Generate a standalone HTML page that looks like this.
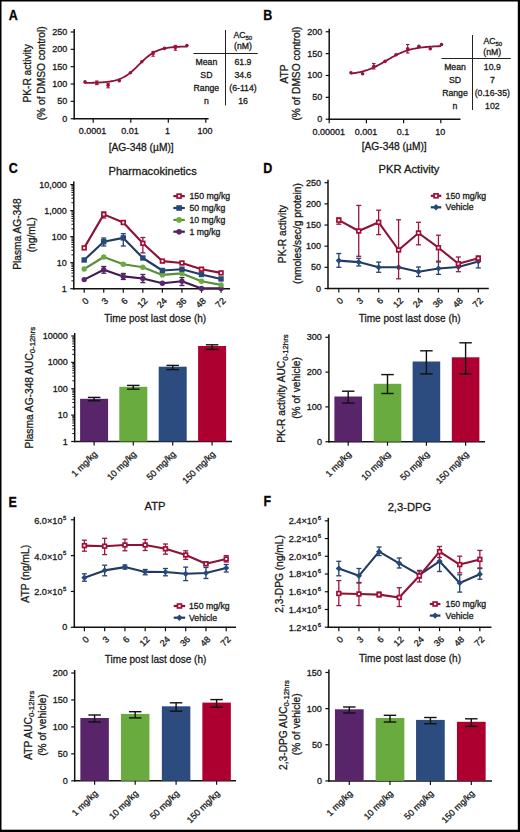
<!DOCTYPE html>
<html><head><meta charset="utf-8"><title>Figure</title>
<style>
html,body{margin:0;padding:0;background:#fff;}
body{width:520px;height:832px;overflow:hidden;}
svg{display:block;font-family:"Liberation Sans",sans-serif;}
text{stroke:#1a1a1a;stroke-width:0.3px;}
</style></head>
<body>
<svg width="520" height="832" viewBox="0 0 520 832">
<rect x="0" y="0" width="520" height="832" fill="#fff"/>
<text transform="translate(8.8,19.6) scale(0.88,1)" font-size="14.2" font-weight="bold" fill="#000">A</text>
<text transform="translate(263.2,19.6) scale(0.88,1)" font-size="14.2" font-weight="bold" fill="#000">B</text>
<text transform="translate(8.700000000000001,172.7) scale(0.88,1)" font-size="14.2" font-weight="bold" fill="#000">C</text>
<text transform="translate(263.2,172.7) scale(0.88,1)" font-size="14.2" font-weight="bold" fill="#000">D</text>
<text transform="translate(8.5,506.5) scale(0.88,1)" font-size="14.2" font-weight="bold" fill="#000">E</text>
<text transform="translate(263.5,506.3) scale(0.88,1)" font-size="14.2" font-weight="bold" fill="#000">F</text>
<line x1="74.20" y1="29.00" x2="74.20" y2="119.45" stroke="#111" stroke-width="1.5"/>
<line x1="70.70" y1="118.70" x2="74.20" y2="118.70" stroke="#111" stroke-width="1.2"/>
<text x="67.20" y="118.70" font-size="9" text-anchor="end" font-weight="normal" fill="#1a1a1a" dominant-baseline="central" >0</text>
<line x1="70.70" y1="101.36" x2="74.20" y2="101.36" stroke="#111" stroke-width="1.2"/>
<text x="67.20" y="101.36" font-size="9" text-anchor="end" font-weight="normal" fill="#1a1a1a" dominant-baseline="central" >50</text>
<line x1="70.70" y1="84.02" x2="74.20" y2="84.02" stroke="#111" stroke-width="1.2"/>
<text x="67.20" y="84.02" font-size="9" text-anchor="end" font-weight="normal" fill="#1a1a1a" dominant-baseline="central" >100</text>
<line x1="70.70" y1="66.68" x2="74.20" y2="66.68" stroke="#111" stroke-width="1.2"/>
<text x="67.20" y="66.68" font-size="9" text-anchor="end" font-weight="normal" fill="#1a1a1a" dominant-baseline="central" >150</text>
<line x1="70.70" y1="49.34" x2="74.20" y2="49.34" stroke="#111" stroke-width="1.2"/>
<text x="67.20" y="49.34" font-size="9" text-anchor="end" font-weight="normal" fill="#1a1a1a" dominant-baseline="central" >200</text>
<line x1="70.70" y1="32.00" x2="74.20" y2="32.00" stroke="#111" stroke-width="1.2"/>
<text x="67.20" y="32.00" font-size="9" text-anchor="end" font-weight="normal" fill="#1a1a1a" dominant-baseline="central" >250</text>
<line x1="73.45" y1="118.70" x2="208.60" y2="118.70" stroke="#111" stroke-width="1.5"/>
<line x1="93.20" y1="118.70" x2="93.20" y2="122.70" stroke="#111" stroke-width="1.2"/>
<line x1="130.80" y1="118.70" x2="130.80" y2="122.70" stroke="#111" stroke-width="1.2"/>
<line x1="168.30" y1="118.70" x2="168.30" y2="122.70" stroke="#111" stroke-width="1.2"/>
<line x1="205.80" y1="118.70" x2="205.80" y2="122.70" stroke="#111" stroke-width="1.2"/>
<text x="92.40" y="134.30" font-size="9" text-anchor="middle" font-weight="normal" fill="#1a1a1a" >0.0001</text>
<text x="130.00" y="134.30" font-size="9" text-anchor="middle" font-weight="normal" fill="#1a1a1a" >0.01</text>
<text x="167.50" y="134.30" font-size="9" text-anchor="middle" font-weight="normal" fill="#1a1a1a" >1</text>
<text x="205.00" y="134.30" font-size="9" text-anchor="middle" font-weight="normal" fill="#1a1a1a" >100</text>
<text x="141.20" y="150.60" font-size="10.5" text-anchor="middle" font-weight="normal" fill="#1a1a1a" textLength="65" lengthAdjust="spacingAndGlyphs">[AG-348 (µM)]</text>
<text transform="translate(31.20,73.40) rotate(-90)" font-size="10.2" text-anchor="middle" fill="#1a1a1a">PK-R activity</text>
<text transform="translate(45.00,73.30) rotate(-90)" font-size="10.2" text-anchor="middle" fill="#1a1a1a">(% of DMSO control)</text>
<polyline points="84.50,82.90 85.50,82.89 86.50,82.88 87.50,82.86 88.50,82.85 89.50,82.83 90.50,82.81 91.50,82.79 92.50,82.77 93.50,82.74 94.50,82.71 95.50,82.68 96.50,82.64 97.50,82.60 98.50,82.56 99.50,82.51 100.50,82.45 101.50,82.39 102.50,82.32 103.50,82.24 104.50,82.16 105.50,82.06 106.50,81.96 107.50,81.84 108.50,81.71 109.50,81.57 110.50,81.41 111.50,81.24 112.50,81.05 113.50,80.84 114.50,80.61 115.50,80.35 116.50,80.07 117.50,79.77 118.50,79.43 119.50,79.07 120.50,78.67 121.50,78.23 122.50,77.76 123.50,77.26 124.50,76.71 125.50,76.12 126.50,75.50 127.50,74.83 128.50,74.12 129.50,73.36 130.50,72.57 131.50,71.74 132.50,70.88 133.50,69.98 134.50,69.05 135.50,68.10 136.50,67.13 137.50,66.14 138.50,65.15 139.50,64.15 140.50,63.16 141.50,62.17 142.50,61.20 143.50,60.25 144.50,59.32 145.50,58.42 146.50,57.56 147.50,56.73 148.50,55.94 149.50,55.18 150.50,54.47 151.50,53.80 152.50,53.18 153.50,52.59 154.50,52.04 155.50,51.54 156.50,51.07 157.50,50.63 158.50,50.23 159.50,49.87 160.50,49.53 161.50,49.23 162.50,48.95 163.50,48.69 164.50,48.46 165.50,48.25 166.50,48.06 167.50,47.89 168.50,47.73 169.50,47.59 170.50,47.46 171.50,47.34 172.50,47.24 173.50,47.14 174.50,47.06 175.50,46.98 176.50,46.91 177.50,46.85 178.50,46.79 179.50,46.74 180.50,46.70 181.50,46.66 182.50,46.62 183.50,46.59 184.50,46.56 185.50,46.53 186.50,46.51 187.50,46.49" fill="none" stroke="#8a1236" stroke-width="1.8"/>
<circle cx="85.00" cy="81.90" r="1.80" fill="#9a1038"/>
<line x1="96.80" y1="81.00" x2="96.80" y2="84.60" stroke="#a50d35" stroke-width="1.1"/>
<line x1="95.05" y1="81.00" x2="98.55" y2="81.00" stroke="#a50d35" stroke-width="1.1"/>
<line x1="95.05" y1="84.60" x2="98.55" y2="84.60" stroke="#a50d35" stroke-width="1.1"/>
<circle cx="96.80" cy="82.80" r="1.80" fill="#9a1038"/>
<line x1="108.10" y1="83.30" x2="108.10" y2="87.80" stroke="#a50d35" stroke-width="1.1"/>
<line x1="106.35" y1="83.30" x2="109.85" y2="83.30" stroke="#a50d35" stroke-width="1.1"/>
<line x1="106.35" y1="87.80" x2="109.85" y2="87.80" stroke="#a50d35" stroke-width="1.1"/>
<circle cx="108.10" cy="85.30" r="1.80" fill="#9a1038"/>
<circle cx="119.30" cy="80.70" r="1.80" fill="#9a1038"/>
<circle cx="130.40" cy="72.70" r="1.80" fill="#9a1038"/>
<circle cx="141.80" cy="61.80" r="1.80" fill="#9a1038"/>
<line x1="153.10" y1="51.40" x2="153.10" y2="56.20" stroke="#a50d35" stroke-width="1.1"/>
<line x1="151.35" y1="51.40" x2="154.85" y2="51.40" stroke="#a50d35" stroke-width="1.1"/>
<line x1="151.35" y1="56.20" x2="154.85" y2="56.20" stroke="#a50d35" stroke-width="1.1"/>
<circle cx="153.10" cy="53.40" r="1.80" fill="#9a1038"/>
<circle cx="164.40" cy="48.40" r="1.80" fill="#9a1038"/>
<line x1="175.40" y1="45.40" x2="175.40" y2="50.20" stroke="#a50d35" stroke-width="1.1"/>
<line x1="173.65" y1="45.40" x2="177.15" y2="45.40" stroke="#a50d35" stroke-width="1.1"/>
<line x1="173.65" y1="50.20" x2="177.15" y2="50.20" stroke="#a50d35" stroke-width="1.1"/>
<circle cx="175.40" cy="47.50" r="1.80" fill="#9a1038"/>
<circle cx="186.90" cy="45.50" r="1.80" fill="#9a1038"/>
<line x1="225.50" y1="30.00" x2="225.50" y2="105.40" stroke="#222" stroke-width="1.0"/>
<line x1="193.50" y1="53.50" x2="257.70" y2="53.50" stroke="#222" stroke-width="1.0"/>
<text x="242.80" y="38.20" font-size="8.7" text-anchor="middle" font-weight="normal" fill="#1a1a1a" >AC<tspan font-size="6" dy="2">50</tspan></text>
<text x="243.00" y="49.30" font-size="8.7" text-anchor="middle" font-weight="normal" fill="#1a1a1a" >(nM)</text>
<text x="206.40" y="64.60" font-size="8.7" text-anchor="middle" font-weight="normal" fill="#1a1a1a" >Mean</text>
<text x="243.00" y="64.60" font-size="8.7" text-anchor="middle" font-weight="normal" fill="#1a1a1a" >61.9</text>
<text x="206.40" y="77.70" font-size="8.7" text-anchor="middle" font-weight="normal" fill="#1a1a1a" >SD</text>
<text x="243.00" y="77.70" font-size="8.7" text-anchor="middle" font-weight="normal" fill="#1a1a1a" >34.6</text>
<text x="206.40" y="90.80" font-size="8.7" text-anchor="middle" font-weight="normal" fill="#1a1a1a" >Range</text>
<text x="243.00" y="90.80" font-size="8.7" text-anchor="middle" font-weight="normal" fill="#1a1a1a" >(6-114)</text>
<text x="206.40" y="103.90" font-size="8.7" text-anchor="middle" font-weight="normal" fill="#1a1a1a" >n</text>
<text x="243.00" y="103.90" font-size="8.7" text-anchor="middle" font-weight="normal" fill="#1a1a1a" >16</text>
<line x1="329.20" y1="28.76" x2="329.20" y2="119.95" stroke="#111" stroke-width="1.5"/>
<line x1="325.70" y1="119.20" x2="329.20" y2="119.20" stroke="#111" stroke-width="1.2"/>
<text x="322.20" y="119.20" font-size="9" text-anchor="end" font-weight="normal" fill="#1a1a1a" dominant-baseline="central" >0</text>
<line x1="325.70" y1="97.34" x2="329.20" y2="97.34" stroke="#111" stroke-width="1.2"/>
<text x="322.20" y="97.34" font-size="9" text-anchor="end" font-weight="normal" fill="#1a1a1a" dominant-baseline="central" >50</text>
<line x1="325.70" y1="75.48" x2="329.20" y2="75.48" stroke="#111" stroke-width="1.2"/>
<text x="322.20" y="75.48" font-size="9" text-anchor="end" font-weight="normal" fill="#1a1a1a" dominant-baseline="central" >100</text>
<line x1="325.70" y1="53.62" x2="329.20" y2="53.62" stroke="#111" stroke-width="1.2"/>
<text x="322.20" y="53.62" font-size="9" text-anchor="end" font-weight="normal" fill="#1a1a1a" dominant-baseline="central" >150</text>
<line x1="325.70" y1="31.76" x2="329.20" y2="31.76" stroke="#111" stroke-width="1.2"/>
<text x="322.20" y="31.76" font-size="9" text-anchor="end" font-weight="normal" fill="#1a1a1a" dominant-baseline="central" >200</text>
<line x1="328.45" y1="119.20" x2="460.50" y2="119.20" stroke="#111" stroke-width="1.5"/>
<line x1="329.20" y1="119.20" x2="329.20" y2="123.20" stroke="#111" stroke-width="1.2"/>
<line x1="366.40" y1="119.20" x2="366.40" y2="123.20" stroke="#111" stroke-width="1.2"/>
<line x1="403.60" y1="119.20" x2="403.60" y2="123.20" stroke="#111" stroke-width="1.2"/>
<line x1="440.80" y1="119.20" x2="440.80" y2="123.20" stroke="#111" stroke-width="1.2"/>
<text x="328.70" y="134.60" font-size="9" text-anchor="middle" font-weight="normal" fill="#1a1a1a" >0.00001</text>
<text x="365.90" y="134.60" font-size="9" text-anchor="middle" font-weight="normal" fill="#1a1a1a" >0.001</text>
<text x="403.10" y="134.60" font-size="9" text-anchor="middle" font-weight="normal" fill="#1a1a1a" >0.1</text>
<text x="440.30" y="134.60" font-size="9" text-anchor="middle" font-weight="normal" fill="#1a1a1a" >10</text>
<text x="394.20" y="150.30" font-size="10.5" text-anchor="middle" font-weight="normal" fill="#1a1a1a" textLength="65" lengthAdjust="spacingAndGlyphs">[AG-348 (µM)]</text>
<text transform="translate(288.20,74.00) rotate(-90)" font-size="10.2" text-anchor="middle" fill="#1a1a1a">ATP</text>
<text transform="translate(299.90,73.60) rotate(-90)" font-size="10.2" text-anchor="middle" fill="#1a1a1a">(% of DMSO control)</text>
<polyline points="351.00,73.58 352.00,73.45 353.00,73.31 354.00,73.17 355.00,73.01 356.00,72.84 357.00,72.66 358.00,72.47 359.00,72.27 360.00,72.05 361.00,71.82 362.00,71.57 363.00,71.31 364.00,71.03 365.00,70.73 366.00,70.42 367.00,70.09 368.00,69.75 369.00,69.38 370.00,69.00 371.00,68.60 372.00,68.18 373.00,67.75 374.00,67.29 375.00,66.82 376.00,66.33 377.00,65.83 378.00,65.31 379.00,64.78 380.00,64.24 381.00,63.68 382.00,63.12 383.00,62.54 384.00,61.97 385.00,61.38 386.00,60.79 387.00,60.21 388.00,59.62 389.00,59.03 390.00,58.46 391.00,57.88 392.00,57.32 393.00,56.76 394.00,56.22 395.00,55.69 396.00,55.17 397.00,54.67 398.00,54.18 399.00,53.71 400.00,53.25 401.00,52.82 402.00,52.40 403.00,52.00 404.00,51.62 405.00,51.25 406.00,50.91 407.00,50.58 408.00,50.27 409.00,49.97 410.00,49.69 411.00,49.43 412.00,49.18 413.00,48.95 414.00,48.73 415.00,48.53 416.00,48.34 417.00,48.16 418.00,47.99 419.00,47.83 420.00,47.69 421.00,47.55 422.00,47.42 423.00,47.30 424.00,47.19 425.00,47.09 426.00,47.00 427.00,46.91 428.00,46.83 429.00,46.75 430.00,46.68 431.00,46.61 432.00,46.55 433.00,46.50 434.00,46.44 435.00,46.39 436.00,46.35 437.00,46.31 438.00,46.27 439.00,46.23 440.00,46.20 441.00,46.17" fill="none" stroke="#8a1236" stroke-width="1.8"/>
<circle cx="351.00" cy="72.70" r="1.80" fill="#9a1038"/>
<circle cx="362.60" cy="73.70" r="1.80" fill="#9a1038"/>
<line x1="373.80" y1="63.50" x2="373.80" y2="69.00" stroke="#a50d35" stroke-width="1.1"/>
<line x1="372.05" y1="63.50" x2="375.55" y2="63.50" stroke="#a50d35" stroke-width="1.1"/>
<line x1="372.05" y1="69.00" x2="375.55" y2="69.00" stroke="#a50d35" stroke-width="1.1"/>
<circle cx="373.80" cy="66.30" r="1.80" fill="#9a1038"/>
<circle cx="385.00" cy="61.40" r="1.80" fill="#9a1038"/>
<circle cx="396.00" cy="54.70" r="1.80" fill="#9a1038"/>
<line x1="407.70" y1="44.50" x2="407.70" y2="53.00" stroke="#a50d35" stroke-width="1.1"/>
<line x1="405.95" y1="44.50" x2="409.45" y2="44.50" stroke="#a50d35" stroke-width="1.1"/>
<line x1="405.95" y1="53.00" x2="409.45" y2="53.00" stroke="#a50d35" stroke-width="1.1"/>
<circle cx="407.70" cy="48.80" r="1.80" fill="#9a1038"/>
<circle cx="418.90" cy="46.20" r="1.80" fill="#9a1038"/>
<circle cx="430.30" cy="48.80" r="1.80" fill="#9a1038"/>
<circle cx="441.50" cy="44.50" r="1.80" fill="#9a1038"/>
<line x1="472.50" y1="35.00" x2="472.50" y2="110.00" stroke="#222" stroke-width="1.0"/>
<line x1="441.50" y1="58.50" x2="510.80" y2="58.50" stroke="#222" stroke-width="1.0"/>
<text x="492.80" y="44.40" font-size="8.7" text-anchor="middle" font-weight="normal" fill="#1a1a1a" >AC<tspan font-size="6" dy="2">50</tspan></text>
<text x="492.30" y="54.80" font-size="8.7" text-anchor="middle" font-weight="normal" fill="#1a1a1a" >(nM)</text>
<text x="455.00" y="70.20" font-size="8.7" text-anchor="middle" font-weight="normal" fill="#1a1a1a" >Mean</text>
<text x="492.30" y="70.20" font-size="8.7" text-anchor="middle" font-weight="normal" fill="#1a1a1a" >10.9</text>
<text x="455.00" y="83.10" font-size="8.7" text-anchor="middle" font-weight="normal" fill="#1a1a1a" >SD</text>
<text x="492.30" y="83.10" font-size="8.7" text-anchor="middle" font-weight="normal" fill="#1a1a1a" >7</text>
<text x="455.00" y="96.00" font-size="8.7" text-anchor="middle" font-weight="normal" fill="#1a1a1a" >Range</text>
<text x="492.30" y="96.00" font-size="8.7" text-anchor="middle" font-weight="normal" fill="#1a1a1a" >(0.16-35)</text>
<text x="455.00" y="108.90" font-size="8.7" text-anchor="middle" font-weight="normal" fill="#1a1a1a" >n</text>
<text x="492.30" y="108.90" font-size="8.7" text-anchor="middle" font-weight="normal" fill="#1a1a1a" >102</text>
<line x1="73.80" y1="181.58" x2="73.80" y2="289.45" stroke="#111" stroke-width="1.5"/>
<line x1="70.30" y1="288.70" x2="73.80" y2="288.70" stroke="#111" stroke-width="1.2"/>
<text x="66.80" y="288.70" font-size="9" text-anchor="end" font-weight="normal" fill="#1a1a1a" dominant-baseline="central" >1</text>
<line x1="70.30" y1="262.67" x2="73.80" y2="262.67" stroke="#111" stroke-width="1.2"/>
<text x="66.80" y="262.67" font-size="9" text-anchor="end" font-weight="normal" fill="#1a1a1a" dominant-baseline="central" >10</text>
<line x1="70.30" y1="236.64" x2="73.80" y2="236.64" stroke="#111" stroke-width="1.2"/>
<text x="66.80" y="236.64" font-size="9" text-anchor="end" font-weight="normal" fill="#1a1a1a" dominant-baseline="central" >100</text>
<line x1="70.30" y1="210.61" x2="73.80" y2="210.61" stroke="#111" stroke-width="1.2"/>
<text x="66.80" y="210.61" font-size="9" text-anchor="end" font-weight="normal" fill="#1a1a1a" dominant-baseline="central" >1,000</text>
<line x1="70.30" y1="184.58" x2="73.80" y2="184.58" stroke="#111" stroke-width="1.2"/>
<text x="66.80" y="184.58" font-size="9" text-anchor="end" font-weight="normal" fill="#1a1a1a" dominant-baseline="central" >10,000</text>
<line x1="71.40" y1="280.86" x2="73.80" y2="280.86" stroke="#111" stroke-width="1.0"/>
<line x1="71.40" y1="276.28" x2="73.80" y2="276.28" stroke="#111" stroke-width="1.0"/>
<line x1="71.40" y1="273.03" x2="73.80" y2="273.03" stroke="#111" stroke-width="1.0"/>
<line x1="71.40" y1="270.51" x2="73.80" y2="270.51" stroke="#111" stroke-width="1.0"/>
<line x1="71.40" y1="268.44" x2="73.80" y2="268.44" stroke="#111" stroke-width="1.0"/>
<line x1="71.40" y1="266.70" x2="73.80" y2="266.70" stroke="#111" stroke-width="1.0"/>
<line x1="71.40" y1="265.19" x2="73.80" y2="265.19" stroke="#111" stroke-width="1.0"/>
<line x1="71.40" y1="263.86" x2="73.80" y2="263.86" stroke="#111" stroke-width="1.0"/>
<line x1="71.40" y1="254.83" x2="73.80" y2="254.83" stroke="#111" stroke-width="1.0"/>
<line x1="71.40" y1="250.25" x2="73.80" y2="250.25" stroke="#111" stroke-width="1.0"/>
<line x1="71.40" y1="247.00" x2="73.80" y2="247.00" stroke="#111" stroke-width="1.0"/>
<line x1="71.40" y1="244.48" x2="73.80" y2="244.48" stroke="#111" stroke-width="1.0"/>
<line x1="71.40" y1="242.41" x2="73.80" y2="242.41" stroke="#111" stroke-width="1.0"/>
<line x1="71.40" y1="240.67" x2="73.80" y2="240.67" stroke="#111" stroke-width="1.0"/>
<line x1="71.40" y1="239.16" x2="73.80" y2="239.16" stroke="#111" stroke-width="1.0"/>
<line x1="71.40" y1="237.83" x2="73.80" y2="237.83" stroke="#111" stroke-width="1.0"/>
<line x1="71.40" y1="228.80" x2="73.80" y2="228.80" stroke="#111" stroke-width="1.0"/>
<line x1="71.40" y1="224.22" x2="73.80" y2="224.22" stroke="#111" stroke-width="1.0"/>
<line x1="71.40" y1="220.97" x2="73.80" y2="220.97" stroke="#111" stroke-width="1.0"/>
<line x1="71.40" y1="218.45" x2="73.80" y2="218.45" stroke="#111" stroke-width="1.0"/>
<line x1="71.40" y1="216.38" x2="73.80" y2="216.38" stroke="#111" stroke-width="1.0"/>
<line x1="71.40" y1="214.64" x2="73.80" y2="214.64" stroke="#111" stroke-width="1.0"/>
<line x1="71.40" y1="213.13" x2="73.80" y2="213.13" stroke="#111" stroke-width="1.0"/>
<line x1="71.40" y1="211.80" x2="73.80" y2="211.80" stroke="#111" stroke-width="1.0"/>
<line x1="71.40" y1="202.77" x2="73.80" y2="202.77" stroke="#111" stroke-width="1.0"/>
<line x1="71.40" y1="198.19" x2="73.80" y2="198.19" stroke="#111" stroke-width="1.0"/>
<line x1="71.40" y1="194.94" x2="73.80" y2="194.94" stroke="#111" stroke-width="1.0"/>
<line x1="71.40" y1="192.42" x2="73.80" y2="192.42" stroke="#111" stroke-width="1.0"/>
<line x1="71.40" y1="190.35" x2="73.80" y2="190.35" stroke="#111" stroke-width="1.0"/>
<line x1="71.40" y1="188.61" x2="73.80" y2="188.61" stroke="#111" stroke-width="1.0"/>
<line x1="71.40" y1="187.10" x2="73.80" y2="187.10" stroke="#111" stroke-width="1.0"/>
<line x1="71.40" y1="185.77" x2="73.80" y2="185.77" stroke="#111" stroke-width="1.0"/>
<line x1="73.05" y1="288.70" x2="230.00" y2="288.70" stroke="#111" stroke-width="1.5"/>
<line x1="84.20" y1="288.70" x2="84.20" y2="292.70" stroke="#111" stroke-width="1.2"/>
<line x1="103.75" y1="288.70" x2="103.75" y2="292.70" stroke="#111" stroke-width="1.2"/>
<line x1="123.30" y1="288.70" x2="123.30" y2="292.70" stroke="#111" stroke-width="1.2"/>
<line x1="142.85" y1="288.70" x2="142.85" y2="292.70" stroke="#111" stroke-width="1.2"/>
<line x1="162.40" y1="288.70" x2="162.40" y2="292.70" stroke="#111" stroke-width="1.2"/>
<line x1="181.95" y1="288.70" x2="181.95" y2="292.70" stroke="#111" stroke-width="1.2"/>
<line x1="201.50" y1="288.70" x2="201.50" y2="292.70" stroke="#111" stroke-width="1.2"/>
<line x1="221.05" y1="288.70" x2="221.05" y2="292.70" stroke="#111" stroke-width="1.2"/>
<text transform="translate(87.20,299.30) rotate(-45)" font-size="9" text-anchor="end" fill="#1a1a1a" dominant-baseline="central">0</text>
<text transform="translate(106.75,299.30) rotate(-45)" font-size="9" text-anchor="end" fill="#1a1a1a" dominant-baseline="central">3</text>
<text transform="translate(126.30,299.30) rotate(-45)" font-size="9" text-anchor="end" fill="#1a1a1a" dominant-baseline="central">6</text>
<text transform="translate(145.85,299.30) rotate(-45)" font-size="9" text-anchor="end" fill="#1a1a1a" dominant-baseline="central">12</text>
<text transform="translate(165.40,299.30) rotate(-45)" font-size="9" text-anchor="end" fill="#1a1a1a" dominant-baseline="central">24</text>
<text transform="translate(184.95,299.30) rotate(-45)" font-size="9" text-anchor="end" fill="#1a1a1a" dominant-baseline="central">36</text>
<text transform="translate(204.50,299.30) rotate(-45)" font-size="9" text-anchor="end" fill="#1a1a1a" dominant-baseline="central">48</text>
<text transform="translate(224.05,299.30) rotate(-45)" font-size="9" text-anchor="end" fill="#1a1a1a" dominant-baseline="central">72</text>
<text x="155.20" y="321.90" font-size="11.2" text-anchor="middle" font-weight="normal" fill="#1a1a1a" textLength="102" lengthAdjust="spacingAndGlyphs">Time post last dose (h)</text>
<text x="152.60" y="175.00" font-size="11.2" text-anchor="middle" font-weight="normal" fill="#1a1a1a" >Pharmacokinetics</text>
<text transform="translate(20.60,234.10) rotate(-90)" font-size="10.2" text-anchor="middle" fill="#1a1a1a">Plasma AG-348</text>
<text transform="translate(35.30,234.80) rotate(-90)" font-size="10.2" text-anchor="middle" fill="#1a1a1a">(ng/mL)</text>
<polyline points="84.20,279.60 103.75,269.80 123.30,276.40 142.85,278.50 162.40,283.20 181.95,281.20 201.50,288.40 221.05,288.40" fill="none" stroke="#401b4d" stroke-width="2.1" stroke-linejoin="round"/>
<line x1="103.75" y1="266.50" x2="103.75" y2="273.20" stroke="#4a1f58" stroke-width="1.3"/>
<line x1="101.25" y1="266.50" x2="106.25" y2="266.50" stroke="#4a1f58" stroke-width="1.3"/>
<line x1="101.25" y1="273.20" x2="106.25" y2="273.20" stroke="#4a1f58" stroke-width="1.3"/>
<line x1="123.30" y1="273.50" x2="123.30" y2="279.50" stroke="#4a1f58" stroke-width="1.3"/>
<line x1="120.80" y1="273.50" x2="125.80" y2="273.50" stroke="#4a1f58" stroke-width="1.3"/>
<line x1="120.80" y1="279.50" x2="125.80" y2="279.50" stroke="#4a1f58" stroke-width="1.3"/>
<line x1="142.85" y1="274.50" x2="142.85" y2="282.60" stroke="#4a1f58" stroke-width="1.3"/>
<line x1="140.35" y1="274.50" x2="145.35" y2="274.50" stroke="#4a1f58" stroke-width="1.3"/>
<line x1="140.35" y1="282.60" x2="145.35" y2="282.60" stroke="#4a1f58" stroke-width="1.3"/>
<line x1="181.95" y1="277.50" x2="181.95" y2="285.50" stroke="#4a1f58" stroke-width="1.3"/>
<line x1="179.45" y1="277.50" x2="184.45" y2="277.50" stroke="#4a1f58" stroke-width="1.3"/>
<line x1="179.45" y1="285.50" x2="184.45" y2="285.50" stroke="#4a1f58" stroke-width="1.3"/>
<circle cx="84.20" cy="279.60" r="2.70" fill="#59266b"/>
<circle cx="103.75" cy="269.80" r="2.70" fill="#59266b"/>
<circle cx="123.30" cy="276.40" r="2.70" fill="#59266b"/>
<circle cx="142.85" cy="278.50" r="2.70" fill="#59266b"/>
<circle cx="162.40" cy="283.20" r="2.70" fill="#59266b"/>
<circle cx="181.95" cy="281.20" r="2.70" fill="#59266b"/>
<circle cx="201.50" cy="288.40" r="2.70" fill="#59266b"/>
<circle cx="221.05" cy="288.40" r="2.70" fill="#59266b"/>
<polyline points="84.20,269.00 103.75,257.00 123.30,264.20 142.85,267.20 162.40,274.90 181.95,273.40 201.50,281.20 221.05,284.90" fill="none" stroke="#5a8f3c" stroke-width="2.1" stroke-linejoin="round"/>
<circle cx="84.20" cy="269.00" r="2.70" fill="#6aab3f"/>
<circle cx="103.75" cy="257.00" r="2.70" fill="#6aab3f"/>
<circle cx="123.30" cy="264.20" r="2.70" fill="#6aab3f"/>
<circle cx="142.85" cy="267.20" r="2.70" fill="#6aab3f"/>
<circle cx="162.40" cy="274.90" r="2.70" fill="#6aab3f"/>
<circle cx="181.95" cy="273.40" r="2.70" fill="#6aab3f"/>
<circle cx="201.50" cy="281.20" r="2.70" fill="#6aab3f"/>
<circle cx="221.05" cy="284.90" r="2.70" fill="#6aab3f"/>
<polyline points="84.20,260.00 103.75,241.70 123.30,237.90 142.85,258.00 162.40,270.50 181.95,269.20 201.50,274.50 221.05,278.90" fill="none" stroke="#213b60" stroke-width="2.1" stroke-linejoin="round"/>
<line x1="103.75" y1="238.00" x2="103.75" y2="246.00" stroke="#26436c" stroke-width="1.3"/>
<line x1="101.25" y1="238.00" x2="106.25" y2="238.00" stroke="#26436c" stroke-width="1.3"/>
<line x1="101.25" y1="246.00" x2="106.25" y2="246.00" stroke="#26436c" stroke-width="1.3"/>
<line x1="123.30" y1="233.70" x2="123.30" y2="246.00" stroke="#26436c" stroke-width="1.3"/>
<line x1="120.80" y1="233.70" x2="125.80" y2="233.70" stroke="#26436c" stroke-width="1.3"/>
<line x1="120.80" y1="246.00" x2="125.80" y2="246.00" stroke="#26436c" stroke-width="1.3"/>
<rect x="81.50" y="257.30" width="5.40" height="5.40" fill="#27487a"/>
<rect x="101.05" y="239.00" width="5.40" height="5.40" fill="#27487a"/>
<rect x="120.60" y="235.20" width="5.40" height="5.40" fill="#27487a"/>
<rect x="140.15" y="255.30" width="5.40" height="5.40" fill="#27487a"/>
<rect x="159.70" y="267.80" width="5.40" height="5.40" fill="#27487a"/>
<rect x="179.25" y="266.50" width="5.40" height="5.40" fill="#27487a"/>
<rect x="198.80" y="271.80" width="5.40" height="5.40" fill="#27487a"/>
<rect x="218.35" y="276.20" width="5.40" height="5.40" fill="#27487a"/>
<polyline points="84.20,247.90 103.75,214.40 123.30,222.50 142.85,243.30 162.40,261.10 181.95,263.00 201.50,269.20 221.05,272.90" fill="none" stroke="#8c1236" stroke-width="2.1" stroke-linejoin="round"/>
<line x1="103.75" y1="212.00" x2="103.75" y2="218.00" stroke="#98183e" stroke-width="1.3"/>
<line x1="101.25" y1="212.00" x2="106.25" y2="212.00" stroke="#98183e" stroke-width="1.3"/>
<line x1="101.25" y1="218.00" x2="106.25" y2="218.00" stroke="#98183e" stroke-width="1.3"/>
<line x1="142.85" y1="237.50" x2="142.85" y2="252.90" stroke="#98183e" stroke-width="1.3"/>
<line x1="140.35" y1="237.50" x2="145.35" y2="237.50" stroke="#98183e" stroke-width="1.3"/>
<line x1="140.35" y1="252.90" x2="145.35" y2="252.90" stroke="#98183e" stroke-width="1.3"/>
<rect x="82.35" y="246.05" width="3.70" height="3.70" fill="#fff" stroke="#a50d35" stroke-width="1.7"/>
<rect x="101.90" y="212.55" width="3.70" height="3.70" fill="#fff" stroke="#a50d35" stroke-width="1.7"/>
<rect x="121.45" y="220.65" width="3.70" height="3.70" fill="#fff" stroke="#a50d35" stroke-width="1.7"/>
<rect x="141.00" y="241.45" width="3.70" height="3.70" fill="#fff" stroke="#a50d35" stroke-width="1.7"/>
<rect x="160.55" y="259.25" width="3.70" height="3.70" fill="#fff" stroke="#a50d35" stroke-width="1.7"/>
<rect x="180.10" y="261.15" width="3.70" height="3.70" fill="#fff" stroke="#a50d35" stroke-width="1.7"/>
<rect x="199.65" y="267.35" width="3.70" height="3.70" fill="#fff" stroke="#a50d35" stroke-width="1.7"/>
<rect x="219.20" y="271.05" width="3.70" height="3.70" fill="#fff" stroke="#a50d35" stroke-width="1.7"/>
<line x1="173.40" y1="196.10" x2="184.80" y2="196.10" stroke="#8c1236" stroke-width="2.2"/>
<rect x="177.15" y="194.15" width="3.90" height="3.90" fill="#fff" stroke="#a50d35" stroke-width="1.7"/>
<text x="189.50" y="196.10" font-size="8.7" text-anchor="start" font-weight="normal" fill="#1a1a1a" dominant-baseline="central" >150 mg/kg</text>
<line x1="173.40" y1="208.00" x2="184.80" y2="208.00" stroke="#213b60" stroke-width="2.2"/>
<rect x="176.30" y="205.20" width="5.60" height="5.60" fill="#27487a"/>
<text x="189.50" y="208.00" font-size="8.7" text-anchor="start" font-weight="normal" fill="#1a1a1a" dominant-baseline="central" >50 mg/kg</text>
<line x1="173.40" y1="219.90" x2="184.80" y2="219.90" stroke="#5a8f3c" stroke-width="2.2"/>
<circle cx="179.10" cy="219.90" r="2.80" fill="#6aab3f"/>
<text x="189.50" y="219.90" font-size="8.7" text-anchor="start" font-weight="normal" fill="#1a1a1a" dominant-baseline="central" >10 mg/kg</text>
<line x1="173.40" y1="231.70" x2="184.80" y2="231.70" stroke="#401b4d" stroke-width="2.2"/>
<circle cx="179.10" cy="231.70" r="2.80" fill="#59266b"/>
<text x="189.50" y="231.70" font-size="8.7" text-anchor="start" font-weight="normal" fill="#1a1a1a" dominant-baseline="central" >1 mg/kg</text>
<line x1="74.70" y1="332.98" x2="74.70" y2="442.25" stroke="#111" stroke-width="1.5"/>
<line x1="71.20" y1="441.50" x2="74.70" y2="441.50" stroke="#111" stroke-width="1.2"/>
<text x="67.70" y="441.50" font-size="9" text-anchor="end" font-weight="normal" fill="#1a1a1a" dominant-baseline="central" >1</text>
<line x1="71.20" y1="415.12" x2="74.70" y2="415.12" stroke="#111" stroke-width="1.2"/>
<text x="67.70" y="415.12" font-size="9" text-anchor="end" font-weight="normal" fill="#1a1a1a" dominant-baseline="central" >10</text>
<line x1="71.20" y1="388.74" x2="74.70" y2="388.74" stroke="#111" stroke-width="1.2"/>
<text x="67.70" y="388.74" font-size="9" text-anchor="end" font-weight="normal" fill="#1a1a1a" dominant-baseline="central" >100</text>
<line x1="71.20" y1="362.36" x2="74.70" y2="362.36" stroke="#111" stroke-width="1.2"/>
<text x="67.70" y="362.36" font-size="9" text-anchor="end" font-weight="normal" fill="#1a1a1a" dominant-baseline="central" >1000</text>
<line x1="71.20" y1="335.98" x2="74.70" y2="335.98" stroke="#111" stroke-width="1.2"/>
<text x="67.70" y="335.98" font-size="9" text-anchor="end" font-weight="normal" fill="#1a1a1a" dominant-baseline="central" >10000</text>
<line x1="72.30" y1="433.56" x2="74.70" y2="433.56" stroke="#111" stroke-width="1.0"/>
<line x1="72.30" y1="428.91" x2="74.70" y2="428.91" stroke="#111" stroke-width="1.0"/>
<line x1="72.30" y1="425.62" x2="74.70" y2="425.62" stroke="#111" stroke-width="1.0"/>
<line x1="72.30" y1="423.06" x2="74.70" y2="423.06" stroke="#111" stroke-width="1.0"/>
<line x1="72.30" y1="420.97" x2="74.70" y2="420.97" stroke="#111" stroke-width="1.0"/>
<line x1="72.30" y1="419.21" x2="74.70" y2="419.21" stroke="#111" stroke-width="1.0"/>
<line x1="72.30" y1="417.68" x2="74.70" y2="417.68" stroke="#111" stroke-width="1.0"/>
<line x1="72.30" y1="416.33" x2="74.70" y2="416.33" stroke="#111" stroke-width="1.0"/>
<line x1="72.30" y1="407.18" x2="74.70" y2="407.18" stroke="#111" stroke-width="1.0"/>
<line x1="72.30" y1="402.53" x2="74.70" y2="402.53" stroke="#111" stroke-width="1.0"/>
<line x1="72.30" y1="399.24" x2="74.70" y2="399.24" stroke="#111" stroke-width="1.0"/>
<line x1="72.30" y1="396.68" x2="74.70" y2="396.68" stroke="#111" stroke-width="1.0"/>
<line x1="72.30" y1="394.59" x2="74.70" y2="394.59" stroke="#111" stroke-width="1.0"/>
<line x1="72.30" y1="392.83" x2="74.70" y2="392.83" stroke="#111" stroke-width="1.0"/>
<line x1="72.30" y1="391.30" x2="74.70" y2="391.30" stroke="#111" stroke-width="1.0"/>
<line x1="72.30" y1="389.95" x2="74.70" y2="389.95" stroke="#111" stroke-width="1.0"/>
<line x1="72.30" y1="380.80" x2="74.70" y2="380.80" stroke="#111" stroke-width="1.0"/>
<line x1="72.30" y1="376.15" x2="74.70" y2="376.15" stroke="#111" stroke-width="1.0"/>
<line x1="72.30" y1="372.86" x2="74.70" y2="372.86" stroke="#111" stroke-width="1.0"/>
<line x1="72.30" y1="370.30" x2="74.70" y2="370.30" stroke="#111" stroke-width="1.0"/>
<line x1="72.30" y1="368.21" x2="74.70" y2="368.21" stroke="#111" stroke-width="1.0"/>
<line x1="72.30" y1="366.45" x2="74.70" y2="366.45" stroke="#111" stroke-width="1.0"/>
<line x1="72.30" y1="364.92" x2="74.70" y2="364.92" stroke="#111" stroke-width="1.0"/>
<line x1="72.30" y1="363.57" x2="74.70" y2="363.57" stroke="#111" stroke-width="1.0"/>
<line x1="72.30" y1="354.42" x2="74.70" y2="354.42" stroke="#111" stroke-width="1.0"/>
<line x1="72.30" y1="349.77" x2="74.70" y2="349.77" stroke="#111" stroke-width="1.0"/>
<line x1="72.30" y1="346.48" x2="74.70" y2="346.48" stroke="#111" stroke-width="1.0"/>
<line x1="72.30" y1="343.92" x2="74.70" y2="343.92" stroke="#111" stroke-width="1.0"/>
<line x1="72.30" y1="341.83" x2="74.70" y2="341.83" stroke="#111" stroke-width="1.0"/>
<line x1="72.30" y1="340.07" x2="74.70" y2="340.07" stroke="#111" stroke-width="1.0"/>
<line x1="72.30" y1="338.54" x2="74.70" y2="338.54" stroke="#111" stroke-width="1.0"/>
<line x1="72.30" y1="337.19" x2="74.70" y2="337.19" stroke="#111" stroke-width="1.0"/>
<line x1="73.95" y1="441.50" x2="232.00" y2="441.50" stroke="#111" stroke-width="1.5"/>
<line x1="94.10" y1="441.50" x2="94.10" y2="445.50" stroke="#111" stroke-width="1.2"/>
<line x1="133.30" y1="441.50" x2="133.30" y2="445.50" stroke="#111" stroke-width="1.2"/>
<line x1="172.70" y1="441.50" x2="172.70" y2="445.50" stroke="#111" stroke-width="1.2"/>
<line x1="212.10" y1="441.50" x2="212.10" y2="445.50" stroke="#111" stroke-width="1.2"/>
<rect x="80.10" y="398.80" width="28.00" height="42.70" fill="#58246a"/>
<rect x="119.30" y="386.80" width="28.00" height="54.70" fill="#69ab3e"/>
<rect x="158.70" y="366.70" width="28.00" height="74.80" fill="#2c4b7e"/>
<rect x="198.10" y="346.00" width="28.00" height="95.50" fill="#ad0030"/>
<line x1="94.10" y1="397.40" x2="94.10" y2="400.80" stroke="#111" stroke-width="1.4"/>
<line x1="87.85" y1="397.40" x2="100.35" y2="397.40" stroke="#111" stroke-width="1.4"/>
<line x1="87.85" y1="400.80" x2="100.35" y2="400.80" stroke="#111" stroke-width="1.4"/>
<line x1="133.30" y1="385.40" x2="133.30" y2="389.20" stroke="#111" stroke-width="1.4"/>
<line x1="127.05" y1="385.40" x2="139.55" y2="385.40" stroke="#111" stroke-width="1.4"/>
<line x1="127.05" y1="389.20" x2="139.55" y2="389.20" stroke="#111" stroke-width="1.4"/>
<line x1="172.70" y1="365.40" x2="172.70" y2="369.60" stroke="#111" stroke-width="1.4"/>
<line x1="166.45" y1="365.40" x2="178.95" y2="365.40" stroke="#111" stroke-width="1.4"/>
<line x1="166.45" y1="369.60" x2="178.95" y2="369.60" stroke="#111" stroke-width="1.4"/>
<line x1="212.10" y1="344.80" x2="212.10" y2="349.40" stroke="#111" stroke-width="1.4"/>
<line x1="205.85" y1="344.80" x2="218.35" y2="344.80" stroke="#111" stroke-width="1.4"/>
<line x1="205.85" y1="349.40" x2="218.35" y2="349.40" stroke="#111" stroke-width="1.4"/>
<text transform="translate(95.60,452.50) rotate(-45)" font-size="9" text-anchor="end" fill="#1a1a1a" dominant-baseline="central">1 mg/kg</text>
<text transform="translate(134.80,452.50) rotate(-45)" font-size="9" text-anchor="end" fill="#1a1a1a" dominant-baseline="central">10 mg/kg</text>
<text transform="translate(174.20,452.50) rotate(-45)" font-size="9" text-anchor="end" fill="#1a1a1a" dominant-baseline="central">50 mg/kg</text>
<text transform="translate(213.60,452.50) rotate(-45)" font-size="9" text-anchor="end" fill="#1a1a1a" dominant-baseline="central">150 mg/kg</text>
<text transform="translate(32.60,387.60) rotate(-90)" font-size="10.2" text-anchor="middle" fill="#1a1a1a">Plasma AG-348 AUC<tspan font-size="7.8" dy="2.3">0-12hrs</tspan></text>
<line x1="328.00" y1="179.70" x2="328.00" y2="289.25" stroke="#111" stroke-width="1.5"/>
<line x1="324.50" y1="288.50" x2="328.00" y2="288.50" stroke="#111" stroke-width="1.2"/>
<text x="321.00" y="288.50" font-size="9" text-anchor="end" font-weight="normal" fill="#1a1a1a" dominant-baseline="central" >0</text>
<line x1="324.50" y1="267.34" x2="328.00" y2="267.34" stroke="#111" stroke-width="1.2"/>
<text x="321.00" y="267.34" font-size="9" text-anchor="end" font-weight="normal" fill="#1a1a1a" dominant-baseline="central" >50</text>
<line x1="324.50" y1="246.18" x2="328.00" y2="246.18" stroke="#111" stroke-width="1.2"/>
<text x="321.00" y="246.18" font-size="9" text-anchor="end" font-weight="normal" fill="#1a1a1a" dominant-baseline="central" >100</text>
<line x1="324.50" y1="225.02" x2="328.00" y2="225.02" stroke="#111" stroke-width="1.2"/>
<text x="321.00" y="225.02" font-size="9" text-anchor="end" font-weight="normal" fill="#1a1a1a" dominant-baseline="central" >150</text>
<line x1="324.50" y1="203.86" x2="328.00" y2="203.86" stroke="#111" stroke-width="1.2"/>
<text x="321.00" y="203.86" font-size="9" text-anchor="end" font-weight="normal" fill="#1a1a1a" dominant-baseline="central" >200</text>
<line x1="324.50" y1="182.70" x2="328.00" y2="182.70" stroke="#111" stroke-width="1.2"/>
<text x="321.00" y="182.70" font-size="9" text-anchor="end" font-weight="normal" fill="#1a1a1a" dominant-baseline="central" >250</text>
<line x1="327.25" y1="288.50" x2="488.80" y2="288.50" stroke="#111" stroke-width="1.5"/>
<line x1="338.80" y1="288.50" x2="338.80" y2="292.50" stroke="#111" stroke-width="1.2"/>
<line x1="358.73" y1="288.50" x2="358.73" y2="292.50" stroke="#111" stroke-width="1.2"/>
<line x1="378.66" y1="288.50" x2="378.66" y2="292.50" stroke="#111" stroke-width="1.2"/>
<line x1="398.59" y1="288.50" x2="398.59" y2="292.50" stroke="#111" stroke-width="1.2"/>
<line x1="418.52" y1="288.50" x2="418.52" y2="292.50" stroke="#111" stroke-width="1.2"/>
<line x1="438.45" y1="288.50" x2="438.45" y2="292.50" stroke="#111" stroke-width="1.2"/>
<line x1="458.38" y1="288.50" x2="458.38" y2="292.50" stroke="#111" stroke-width="1.2"/>
<line x1="478.31" y1="288.50" x2="478.31" y2="292.50" stroke="#111" stroke-width="1.2"/>
<text transform="translate(341.80,299.10) rotate(-45)" font-size="9" text-anchor="end" fill="#1a1a1a" dominant-baseline="central">0</text>
<text transform="translate(361.73,299.10) rotate(-45)" font-size="9" text-anchor="end" fill="#1a1a1a" dominant-baseline="central">3</text>
<text transform="translate(381.66,299.10) rotate(-45)" font-size="9" text-anchor="end" fill="#1a1a1a" dominant-baseline="central">6</text>
<text transform="translate(401.59,299.10) rotate(-45)" font-size="9" text-anchor="end" fill="#1a1a1a" dominant-baseline="central">12</text>
<text transform="translate(421.52,299.10) rotate(-45)" font-size="9" text-anchor="end" fill="#1a1a1a" dominant-baseline="central">24</text>
<text transform="translate(441.45,299.10) rotate(-45)" font-size="9" text-anchor="end" fill="#1a1a1a" dominant-baseline="central">36</text>
<text transform="translate(461.38,299.10) rotate(-45)" font-size="9" text-anchor="end" fill="#1a1a1a" dominant-baseline="central">48</text>
<text transform="translate(481.31,299.10) rotate(-45)" font-size="9" text-anchor="end" fill="#1a1a1a" dominant-baseline="central">72</text>
<text x="409.70" y="321.90" font-size="11.2" text-anchor="middle" font-weight="normal" fill="#1a1a1a" textLength="102" lengthAdjust="spacingAndGlyphs">Time post last dose (h)</text>
<text x="409.00" y="173.10" font-size="11.2" text-anchor="middle" font-weight="normal" fill="#1a1a1a" >PKR Activity</text>
<text transform="translate(285.80,234.00) rotate(-90)" font-size="10.2" text-anchor="middle" fill="#1a1a1a">PK-R activity</text>
<text transform="translate(300.60,233.60) rotate(-90)" font-size="10.2" text-anchor="middle" fill="#1a1a1a">(nmoles/sec/g protein)</text>
<polyline points="338.80,260.60 358.73,262.10 378.66,267.30 398.59,267.30 418.52,271.70 438.45,268.50 458.38,267.00 478.31,261.50" fill="none" stroke="#213b60" stroke-width="2.1" stroke-linejoin="round"/>
<line x1="338.80" y1="253.50" x2="338.80" y2="267.30" stroke="#26436c" stroke-width="1.3"/>
<line x1="336.30" y1="253.50" x2="341.30" y2="253.50" stroke="#26436c" stroke-width="1.3"/>
<line x1="336.30" y1="267.30" x2="341.30" y2="267.30" stroke="#26436c" stroke-width="1.3"/>
<line x1="358.73" y1="258.30" x2="358.73" y2="266.00" stroke="#26436c" stroke-width="1.3"/>
<line x1="356.23" y1="258.30" x2="361.23" y2="258.30" stroke="#26436c" stroke-width="1.3"/>
<line x1="356.23" y1="266.00" x2="361.23" y2="266.00" stroke="#26436c" stroke-width="1.3"/>
<line x1="378.66" y1="262.10" x2="378.66" y2="272.30" stroke="#26436c" stroke-width="1.3"/>
<line x1="376.16" y1="262.10" x2="381.16" y2="262.10" stroke="#26436c" stroke-width="1.3"/>
<line x1="376.16" y1="272.30" x2="381.16" y2="272.30" stroke="#26436c" stroke-width="1.3"/>
<line x1="418.52" y1="267.00" x2="418.52" y2="276.50" stroke="#26436c" stroke-width="1.3"/>
<line x1="416.02" y1="267.00" x2="421.02" y2="267.00" stroke="#26436c" stroke-width="1.3"/>
<line x1="416.02" y1="276.50" x2="421.02" y2="276.50" stroke="#26436c" stroke-width="1.3"/>
<line x1="438.45" y1="262.00" x2="438.45" y2="274.40" stroke="#26436c" stroke-width="1.3"/>
<line x1="435.95" y1="262.00" x2="440.95" y2="262.00" stroke="#26436c" stroke-width="1.3"/>
<line x1="435.95" y1="274.40" x2="440.95" y2="274.40" stroke="#26436c" stroke-width="1.3"/>
<line x1="478.31" y1="258.30" x2="478.31" y2="267.90" stroke="#26436c" stroke-width="1.3"/>
<line x1="475.81" y1="258.30" x2="480.81" y2="258.30" stroke="#26436c" stroke-width="1.3"/>
<line x1="475.81" y1="267.90" x2="480.81" y2="267.90" stroke="#26436c" stroke-width="1.3"/>
<path d="M338.80 257.50L341.91 260.60L338.80 263.71L335.69 260.60Z" fill="#27487a"/>
<path d="M358.73 259.00L361.84 262.10L358.73 265.21L355.62 262.10Z" fill="#27487a"/>
<path d="M378.66 264.19L381.77 267.30L378.66 270.41L375.56 267.30Z" fill="#27487a"/>
<path d="M398.59 264.19L401.70 267.30L398.59 270.41L395.49 267.30Z" fill="#27487a"/>
<path d="M418.52 268.59L421.62 271.70L418.52 274.81L415.41 271.70Z" fill="#27487a"/>
<path d="M438.45 265.39L441.56 268.50L438.45 271.61L435.35 268.50Z" fill="#27487a"/>
<path d="M458.38 263.89L461.49 267.00L458.38 270.11L455.27 267.00Z" fill="#27487a"/>
<path d="M478.31 258.39L481.42 261.50L478.31 264.61L475.20 261.50Z" fill="#27487a"/>
<polyline points="338.80,220.20 358.73,231.00 378.66,222.30 398.59,250.00 418.52,233.00 438.45,247.70 458.38,263.70 478.31,258.30" fill="none" stroke="#8c1236" stroke-width="2.1" stroke-linejoin="round"/>
<line x1="338.80" y1="217.90" x2="338.80" y2="224.20" stroke="#98183e" stroke-width="1.3"/>
<line x1="336.30" y1="217.90" x2="341.30" y2="217.90" stroke="#98183e" stroke-width="1.3"/>
<line x1="336.30" y1="224.20" x2="341.30" y2="224.20" stroke="#98183e" stroke-width="1.3"/>
<line x1="358.73" y1="205.40" x2="358.73" y2="256.30" stroke="#98183e" stroke-width="1.3"/>
<line x1="356.23" y1="205.40" x2="361.23" y2="205.40" stroke="#98183e" stroke-width="1.3"/>
<line x1="356.23" y1="256.30" x2="361.23" y2="256.30" stroke="#98183e" stroke-width="1.3"/>
<line x1="378.66" y1="210.20" x2="378.66" y2="234.60" stroke="#98183e" stroke-width="1.3"/>
<line x1="376.16" y1="210.20" x2="381.16" y2="210.20" stroke="#98183e" stroke-width="1.3"/>
<line x1="376.16" y1="234.60" x2="381.16" y2="234.60" stroke="#98183e" stroke-width="1.3"/>
<line x1="398.59" y1="219.80" x2="398.59" y2="278.80" stroke="#98183e" stroke-width="1.3"/>
<line x1="396.09" y1="219.80" x2="401.09" y2="219.80" stroke="#98183e" stroke-width="1.3"/>
<line x1="396.09" y1="278.80" x2="401.09" y2="278.80" stroke="#98183e" stroke-width="1.3"/>
<line x1="418.52" y1="222.30" x2="418.52" y2="244.80" stroke="#98183e" stroke-width="1.3"/>
<line x1="416.02" y1="222.30" x2="421.02" y2="222.30" stroke="#98183e" stroke-width="1.3"/>
<line x1="416.02" y1="244.80" x2="421.02" y2="244.80" stroke="#98183e" stroke-width="1.3"/>
<line x1="438.45" y1="235.20" x2="438.45" y2="261.20" stroke="#98183e" stroke-width="1.3"/>
<line x1="435.95" y1="235.20" x2="440.95" y2="235.20" stroke="#98183e" stroke-width="1.3"/>
<line x1="435.95" y1="261.20" x2="440.95" y2="261.20" stroke="#98183e" stroke-width="1.3"/>
<line x1="458.38" y1="257.00" x2="458.38" y2="271.70" stroke="#98183e" stroke-width="1.3"/>
<line x1="455.88" y1="257.00" x2="460.88" y2="257.00" stroke="#98183e" stroke-width="1.3"/>
<line x1="455.88" y1="271.70" x2="460.88" y2="271.70" stroke="#98183e" stroke-width="1.3"/>
<line x1="478.31" y1="256.00" x2="478.31" y2="260.50" stroke="#98183e" stroke-width="1.3"/>
<line x1="475.81" y1="256.00" x2="480.81" y2="256.00" stroke="#98183e" stroke-width="1.3"/>
<line x1="475.81" y1="260.50" x2="480.81" y2="260.50" stroke="#98183e" stroke-width="1.3"/>
<rect x="336.95" y="218.35" width="3.70" height="3.70" fill="#fff" stroke="#a50d35" stroke-width="1.7"/>
<rect x="356.88" y="229.15" width="3.70" height="3.70" fill="#fff" stroke="#a50d35" stroke-width="1.7"/>
<rect x="376.81" y="220.45" width="3.70" height="3.70" fill="#fff" stroke="#a50d35" stroke-width="1.7"/>
<rect x="396.74" y="248.15" width="3.70" height="3.70" fill="#fff" stroke="#a50d35" stroke-width="1.7"/>
<rect x="416.67" y="231.15" width="3.70" height="3.70" fill="#fff" stroke="#a50d35" stroke-width="1.7"/>
<rect x="436.60" y="245.85" width="3.70" height="3.70" fill="#fff" stroke="#a50d35" stroke-width="1.7"/>
<rect x="456.53" y="261.85" width="3.70" height="3.70" fill="#fff" stroke="#a50d35" stroke-width="1.7"/>
<rect x="476.46" y="256.45" width="3.70" height="3.70" fill="#fff" stroke="#a50d35" stroke-width="1.7"/>
<line x1="430.80" y1="195.80" x2="441.30" y2="195.80" stroke="#8c1236" stroke-width="2.2"/>
<rect x="434.10" y="193.85" width="3.90" height="3.90" fill="#fff" stroke="#a50d35" stroke-width="1.7"/>
<text x="445.60" y="195.80" font-size="8.7" text-anchor="start" font-weight="normal" fill="#1a1a1a" dominant-baseline="central" >150 mg/kg</text>
<line x1="430.80" y1="207.30" x2="441.30" y2="207.30" stroke="#213b60" stroke-width="2.2"/>
<path d="M436.05 204.08L439.27 207.30L436.05 210.52L432.83 207.30Z" fill="#27487a"/>
<text x="445.60" y="207.30" font-size="8.7" text-anchor="start" font-weight="normal" fill="#1a1a1a" dominant-baseline="central" >Vehicle</text>
<line x1="328.90" y1="334.30" x2="328.90" y2="442.45" stroke="#111" stroke-width="1.5"/>
<line x1="325.40" y1="441.70" x2="328.90" y2="441.70" stroke="#111" stroke-width="1.2"/>
<text x="321.90" y="441.70" font-size="9" text-anchor="end" font-weight="normal" fill="#1a1a1a" dominant-baseline="central" >0</text>
<line x1="325.40" y1="406.90" x2="328.90" y2="406.90" stroke="#111" stroke-width="1.2"/>
<text x="321.90" y="406.90" font-size="9" text-anchor="end" font-weight="normal" fill="#1a1a1a" dominant-baseline="central" >100</text>
<line x1="325.40" y1="372.10" x2="328.90" y2="372.10" stroke="#111" stroke-width="1.2"/>
<text x="321.90" y="372.10" font-size="9" text-anchor="end" font-weight="normal" fill="#1a1a1a" dominant-baseline="central" >200</text>
<line x1="325.40" y1="337.30" x2="328.90" y2="337.30" stroke="#111" stroke-width="1.2"/>
<text x="321.90" y="337.30" font-size="9" text-anchor="end" font-weight="normal" fill="#1a1a1a" dominant-baseline="central" >300</text>
<line x1="328.15" y1="441.70" x2="485.00" y2="441.70" stroke="#111" stroke-width="1.5"/>
<line x1="348.20" y1="441.70" x2="348.20" y2="445.70" stroke="#111" stroke-width="1.2"/>
<line x1="387.50" y1="441.70" x2="387.50" y2="445.70" stroke="#111" stroke-width="1.2"/>
<line x1="426.40" y1="441.70" x2="426.40" y2="445.70" stroke="#111" stroke-width="1.2"/>
<line x1="465.60" y1="441.70" x2="465.60" y2="445.70" stroke="#111" stroke-width="1.2"/>
<rect x="334.40" y="396.50" width="27.60" height="45.20" fill="#58246a"/>
<rect x="373.70" y="383.80" width="27.60" height="57.90" fill="#69ab3e"/>
<rect x="412.60" y="361.50" width="27.60" height="80.20" fill="#2c4b7e"/>
<rect x="451.80" y="357.30" width="27.60" height="84.40" fill="#ad0030"/>
<line x1="348.20" y1="391.20" x2="348.20" y2="403.00" stroke="#111" stroke-width="1.4"/>
<line x1="341.95" y1="391.20" x2="354.45" y2="391.20" stroke="#111" stroke-width="1.4"/>
<line x1="341.95" y1="403.00" x2="354.45" y2="403.00" stroke="#111" stroke-width="1.4"/>
<line x1="387.50" y1="374.60" x2="387.50" y2="393.50" stroke="#111" stroke-width="1.4"/>
<line x1="381.25" y1="374.60" x2="393.75" y2="374.60" stroke="#111" stroke-width="1.4"/>
<line x1="381.25" y1="393.50" x2="393.75" y2="393.50" stroke="#111" stroke-width="1.4"/>
<line x1="426.40" y1="350.80" x2="426.40" y2="373.90" stroke="#111" stroke-width="1.4"/>
<line x1="420.15" y1="350.80" x2="432.65" y2="350.80" stroke="#111" stroke-width="1.4"/>
<line x1="420.15" y1="373.90" x2="432.65" y2="373.90" stroke="#111" stroke-width="1.4"/>
<line x1="465.60" y1="342.80" x2="465.60" y2="373.90" stroke="#111" stroke-width="1.4"/>
<line x1="459.35" y1="342.80" x2="471.85" y2="342.80" stroke="#111" stroke-width="1.4"/>
<line x1="459.35" y1="373.90" x2="471.85" y2="373.90" stroke="#111" stroke-width="1.4"/>
<text transform="translate(349.70,452.70) rotate(-45)" font-size="9" text-anchor="end" fill="#1a1a1a" dominant-baseline="central">1 mg/kg</text>
<text transform="translate(389.00,452.70) rotate(-45)" font-size="9" text-anchor="end" fill="#1a1a1a" dominant-baseline="central">10 mg/kg</text>
<text transform="translate(427.90,452.70) rotate(-45)" font-size="9" text-anchor="end" fill="#1a1a1a" dominant-baseline="central">50 mg/kg</text>
<text transform="translate(467.10,452.70) rotate(-45)" font-size="9" text-anchor="end" fill="#1a1a1a" dominant-baseline="central">150 mg/kg</text>
<text transform="translate(285.20,388.60) rotate(-90)" font-size="10.2" text-anchor="middle" fill="#1a1a1a">PK-R activity AUC<tspan font-size="7.8" dy="2.3">0-12hrs</tspan></text>
<text transform="translate(299.80,388.00) rotate(-90)" font-size="10.2" text-anchor="middle" fill="#1a1a1a">(% of vehicle)</text>
<line x1="74.30" y1="516.78" x2="74.30" y2="628.05" stroke="#111" stroke-width="1.5"/>
<line x1="70.80" y1="627.30" x2="74.30" y2="627.30" stroke="#111" stroke-width="1.2"/>
<line x1="70.80" y1="591.46" x2="74.30" y2="591.46" stroke="#111" stroke-width="1.2"/>
<line x1="70.80" y1="555.62" x2="74.30" y2="555.62" stroke="#111" stroke-width="1.2"/>
<line x1="70.80" y1="519.78" x2="74.30" y2="519.78" stroke="#111" stroke-width="1.2"/>
<text x="67.30" y="627.30" font-size="9" text-anchor="end" font-weight="normal" fill="#1a1a1a" dominant-baseline="central" >0</text>
<text x="62.50" y="592.46" font-size="9.2" text-anchor="end" font-weight="normal" fill="#1a1a1a" dominant-baseline="central" >2.0×10</text>
<text x="63.00" y="589.26" font-size="6.0" text-anchor="start" font-weight="normal" fill="#1a1a1a" dominant-baseline="central" >5</text>
<text x="62.50" y="556.62" font-size="9.2" text-anchor="end" font-weight="normal" fill="#1a1a1a" dominant-baseline="central" >4.0×10</text>
<text x="63.00" y="553.42" font-size="6.0" text-anchor="start" font-weight="normal" fill="#1a1a1a" dominant-baseline="central" >5</text>
<text x="62.50" y="520.78" font-size="9.2" text-anchor="end" font-weight="normal" fill="#1a1a1a" dominant-baseline="central" >6.0×10</text>
<text x="63.00" y="517.58" font-size="6.0" text-anchor="start" font-weight="normal" fill="#1a1a1a" dominant-baseline="central" >5</text>
<line x1="73.55" y1="627.30" x2="236.00" y2="627.30" stroke="#111" stroke-width="1.5"/>
<line x1="84.40" y1="627.30" x2="84.40" y2="631.30" stroke="#111" stroke-width="1.2"/>
<line x1="104.66" y1="627.30" x2="104.66" y2="631.30" stroke="#111" stroke-width="1.2"/>
<line x1="124.92" y1="627.30" x2="124.92" y2="631.30" stroke="#111" stroke-width="1.2"/>
<line x1="145.18" y1="627.30" x2="145.18" y2="631.30" stroke="#111" stroke-width="1.2"/>
<line x1="165.44" y1="627.30" x2="165.44" y2="631.30" stroke="#111" stroke-width="1.2"/>
<line x1="185.70" y1="627.30" x2="185.70" y2="631.30" stroke="#111" stroke-width="1.2"/>
<line x1="205.96" y1="627.30" x2="205.96" y2="631.30" stroke="#111" stroke-width="1.2"/>
<line x1="226.22" y1="627.30" x2="226.22" y2="631.30" stroke="#111" stroke-width="1.2"/>
<text transform="translate(87.40,637.90) rotate(-45)" font-size="9" text-anchor="end" fill="#1a1a1a" dominant-baseline="central">0</text>
<text transform="translate(107.66,637.90) rotate(-45)" font-size="9" text-anchor="end" fill="#1a1a1a" dominant-baseline="central">3</text>
<text transform="translate(127.92,637.90) rotate(-45)" font-size="9" text-anchor="end" fill="#1a1a1a" dominant-baseline="central">6</text>
<text transform="translate(148.18,637.90) rotate(-45)" font-size="9" text-anchor="end" fill="#1a1a1a" dominant-baseline="central">12</text>
<text transform="translate(168.44,637.90) rotate(-45)" font-size="9" text-anchor="end" fill="#1a1a1a" dominant-baseline="central">24</text>
<text transform="translate(188.70,637.90) rotate(-45)" font-size="9" text-anchor="end" fill="#1a1a1a" dominant-baseline="central">36</text>
<text transform="translate(208.96,637.90) rotate(-45)" font-size="9" text-anchor="end" fill="#1a1a1a" dominant-baseline="central">48</text>
<text transform="translate(229.22,637.90) rotate(-45)" font-size="9" text-anchor="end" fill="#1a1a1a" dominant-baseline="central">72</text>
<text x="155.60" y="662.50" font-size="11.2" text-anchor="middle" font-weight="normal" fill="#1a1a1a" textLength="101.5" lengthAdjust="spacingAndGlyphs">Time post last dose (h)</text>
<text x="155.00" y="510.20" font-size="11.2" text-anchor="middle" font-weight="normal" fill="#1a1a1a" >ATP</text>
<text transform="translate(29.20,573.70) rotate(-90)" font-size="10.4" text-anchor="middle" fill="#1a1a1a">ATP (ng/mL)</text>
<polyline points="84.40,577.70 104.66,570.40 124.92,567.10 145.18,571.90 165.44,572.00 185.70,573.80 205.96,573.00 226.22,568.00" fill="none" stroke="#213b60" stroke-width="2.1" stroke-linejoin="round"/>
<line x1="84.40" y1="573.80" x2="84.40" y2="581.20" stroke="#26436c" stroke-width="1.3"/>
<line x1="81.90" y1="573.80" x2="86.90" y2="573.80" stroke="#26436c" stroke-width="1.3"/>
<line x1="81.90" y1="581.20" x2="86.90" y2="581.20" stroke="#26436c" stroke-width="1.3"/>
<line x1="104.66" y1="565.20" x2="104.66" y2="575.80" stroke="#26436c" stroke-width="1.3"/>
<line x1="102.16" y1="565.20" x2="107.16" y2="565.20" stroke="#26436c" stroke-width="1.3"/>
<line x1="102.16" y1="575.80" x2="107.16" y2="575.80" stroke="#26436c" stroke-width="1.3"/>
<line x1="124.92" y1="565.00" x2="124.92" y2="569.00" stroke="#26436c" stroke-width="1.3"/>
<line x1="122.42" y1="565.00" x2="127.42" y2="565.00" stroke="#26436c" stroke-width="1.3"/>
<line x1="122.42" y1="569.00" x2="127.42" y2="569.00" stroke="#26436c" stroke-width="1.3"/>
<line x1="145.18" y1="569.50" x2="145.18" y2="574.80" stroke="#26436c" stroke-width="1.3"/>
<line x1="142.68" y1="569.50" x2="147.68" y2="569.50" stroke="#26436c" stroke-width="1.3"/>
<line x1="142.68" y1="574.80" x2="147.68" y2="574.80" stroke="#26436c" stroke-width="1.3"/>
<line x1="165.44" y1="568.50" x2="165.44" y2="575.80" stroke="#26436c" stroke-width="1.3"/>
<line x1="162.94" y1="568.50" x2="167.94" y2="568.50" stroke="#26436c" stroke-width="1.3"/>
<line x1="162.94" y1="575.80" x2="167.94" y2="575.80" stroke="#26436c" stroke-width="1.3"/>
<line x1="185.70" y1="567.10" x2="185.70" y2="580.60" stroke="#26436c" stroke-width="1.3"/>
<line x1="183.20" y1="567.10" x2="188.20" y2="567.10" stroke="#26436c" stroke-width="1.3"/>
<line x1="183.20" y1="580.60" x2="188.20" y2="580.60" stroke="#26436c" stroke-width="1.3"/>
<line x1="205.96" y1="567.50" x2="205.96" y2="578.50" stroke="#26436c" stroke-width="1.3"/>
<line x1="203.46" y1="567.50" x2="208.46" y2="567.50" stroke="#26436c" stroke-width="1.3"/>
<line x1="203.46" y1="578.50" x2="208.46" y2="578.50" stroke="#26436c" stroke-width="1.3"/>
<line x1="226.22" y1="564.50" x2="226.22" y2="572.00" stroke="#26436c" stroke-width="1.3"/>
<line x1="223.72" y1="564.50" x2="228.72" y2="564.50" stroke="#26436c" stroke-width="1.3"/>
<line x1="223.72" y1="572.00" x2="228.72" y2="572.00" stroke="#26436c" stroke-width="1.3"/>
<path d="M84.40 574.60L87.51 577.70L84.40 580.81L81.30 577.70Z" fill="#27487a"/>
<path d="M104.66 567.29L107.77 570.40L104.66 573.50L101.56 570.40Z" fill="#27487a"/>
<path d="M124.92 564.00L128.03 567.10L124.92 570.21L121.82 567.10Z" fill="#27487a"/>
<path d="M145.18 568.79L148.28 571.90L145.18 575.00L142.08 571.90Z" fill="#27487a"/>
<path d="M165.44 568.89L168.54 572.00L165.44 575.11L162.34 572.00Z" fill="#27487a"/>
<path d="M185.70 570.69L188.81 573.80L185.70 576.90L182.60 573.80Z" fill="#27487a"/>
<path d="M205.96 569.89L209.06 573.00L205.96 576.11L202.86 573.00Z" fill="#27487a"/>
<path d="M226.22 564.89L229.33 568.00L226.22 571.11L223.12 568.00Z" fill="#27487a"/>
<polyline points="84.40,545.60 104.66,546.20 124.92,545.00 145.18,545.00 165.44,548.80 185.70,555.00 205.96,563.80 226.22,559.00" fill="none" stroke="#8c1236" stroke-width="2.1" stroke-linejoin="round"/>
<line x1="84.40" y1="540.20" x2="84.40" y2="551.20" stroke="#98183e" stroke-width="1.3"/>
<line x1="81.90" y1="540.20" x2="86.90" y2="540.20" stroke="#98183e" stroke-width="1.3"/>
<line x1="81.90" y1="551.20" x2="86.90" y2="551.20" stroke="#98183e" stroke-width="1.3"/>
<line x1="104.66" y1="538.30" x2="104.66" y2="554.60" stroke="#98183e" stroke-width="1.3"/>
<line x1="102.16" y1="538.30" x2="107.16" y2="538.30" stroke="#98183e" stroke-width="1.3"/>
<line x1="102.16" y1="554.60" x2="107.16" y2="554.60" stroke="#98183e" stroke-width="1.3"/>
<line x1="124.92" y1="539.20" x2="124.92" y2="550.80" stroke="#98183e" stroke-width="1.3"/>
<line x1="122.42" y1="539.20" x2="127.42" y2="539.20" stroke="#98183e" stroke-width="1.3"/>
<line x1="122.42" y1="550.80" x2="127.42" y2="550.80" stroke="#98183e" stroke-width="1.3"/>
<line x1="145.18" y1="539.50" x2="145.18" y2="550.50" stroke="#98183e" stroke-width="1.3"/>
<line x1="142.68" y1="539.50" x2="147.68" y2="539.50" stroke="#98183e" stroke-width="1.3"/>
<line x1="142.68" y1="550.50" x2="147.68" y2="550.50" stroke="#98183e" stroke-width="1.3"/>
<line x1="165.44" y1="544.00" x2="165.44" y2="554.20" stroke="#98183e" stroke-width="1.3"/>
<line x1="162.94" y1="544.00" x2="167.94" y2="544.00" stroke="#98183e" stroke-width="1.3"/>
<line x1="162.94" y1="554.20" x2="167.94" y2="554.20" stroke="#98183e" stroke-width="1.3"/>
<line x1="185.70" y1="550.80" x2="185.70" y2="559.40" stroke="#98183e" stroke-width="1.3"/>
<line x1="183.20" y1="550.80" x2="188.20" y2="550.80" stroke="#98183e" stroke-width="1.3"/>
<line x1="183.20" y1="559.40" x2="188.20" y2="559.40" stroke="#98183e" stroke-width="1.3"/>
<line x1="205.96" y1="562.00" x2="205.96" y2="565.50" stroke="#98183e" stroke-width="1.3"/>
<line x1="203.46" y1="562.00" x2="208.46" y2="562.00" stroke="#98183e" stroke-width="1.3"/>
<line x1="203.46" y1="565.50" x2="208.46" y2="565.50" stroke="#98183e" stroke-width="1.3"/>
<line x1="226.22" y1="555.60" x2="226.22" y2="562.00" stroke="#98183e" stroke-width="1.3"/>
<line x1="223.72" y1="555.60" x2="228.72" y2="555.60" stroke="#98183e" stroke-width="1.3"/>
<line x1="223.72" y1="562.00" x2="228.72" y2="562.00" stroke="#98183e" stroke-width="1.3"/>
<rect x="82.55" y="543.75" width="3.70" height="3.70" fill="#fff" stroke="#a50d35" stroke-width="1.7"/>
<rect x="102.81" y="544.35" width="3.70" height="3.70" fill="#fff" stroke="#a50d35" stroke-width="1.7"/>
<rect x="123.07" y="543.15" width="3.70" height="3.70" fill="#fff" stroke="#a50d35" stroke-width="1.7"/>
<rect x="143.33" y="543.15" width="3.70" height="3.70" fill="#fff" stroke="#a50d35" stroke-width="1.7"/>
<rect x="163.59" y="546.95" width="3.70" height="3.70" fill="#fff" stroke="#a50d35" stroke-width="1.7"/>
<rect x="183.85" y="553.15" width="3.70" height="3.70" fill="#fff" stroke="#a50d35" stroke-width="1.7"/>
<rect x="204.11" y="561.95" width="3.70" height="3.70" fill="#fff" stroke="#a50d35" stroke-width="1.7"/>
<rect x="224.37" y="557.15" width="3.70" height="3.70" fill="#fff" stroke="#a50d35" stroke-width="1.7"/>
<line x1="173.70" y1="606.00" x2="185.20" y2="606.00" stroke="#8c1236" stroke-width="2.2"/>
<rect x="177.50" y="604.05" width="3.90" height="3.90" fill="#fff" stroke="#a50d35" stroke-width="1.7"/>
<text x="189.00" y="606.00" font-size="8.7" text-anchor="start" font-weight="normal" fill="#1a1a1a" dominant-baseline="central" >150 mg/kg</text>
<line x1="173.70" y1="617.70" x2="185.20" y2="617.70" stroke="#213b60" stroke-width="2.2"/>
<path d="M179.45 614.48L182.67 617.70L179.45 620.92L176.23 617.70Z" fill="#27487a"/>
<text x="189.00" y="617.70" font-size="8.7" text-anchor="start" font-weight="normal" fill="#1a1a1a" dominant-baseline="central" >Vehicle</text>
<line x1="74.70" y1="670.00" x2="74.70" y2="781.55" stroke="#111" stroke-width="1.5"/>
<line x1="71.20" y1="780.80" x2="74.70" y2="780.80" stroke="#111" stroke-width="1.2"/>
<text x="67.70" y="780.80" font-size="9" text-anchor="end" font-weight="normal" fill="#1a1a1a" dominant-baseline="central" >0</text>
<line x1="71.20" y1="753.85" x2="74.70" y2="753.85" stroke="#111" stroke-width="1.2"/>
<text x="67.70" y="753.85" font-size="9" text-anchor="end" font-weight="normal" fill="#1a1a1a" dominant-baseline="central" >50</text>
<line x1="71.20" y1="726.90" x2="74.70" y2="726.90" stroke="#111" stroke-width="1.2"/>
<text x="67.70" y="726.90" font-size="9" text-anchor="end" font-weight="normal" fill="#1a1a1a" dominant-baseline="central" >100</text>
<line x1="71.20" y1="699.95" x2="74.70" y2="699.95" stroke="#111" stroke-width="1.2"/>
<text x="67.70" y="699.95" font-size="9" text-anchor="end" font-weight="normal" fill="#1a1a1a" dominant-baseline="central" >150</text>
<line x1="71.20" y1="673.00" x2="74.70" y2="673.00" stroke="#111" stroke-width="1.2"/>
<text x="67.70" y="673.00" font-size="9" text-anchor="end" font-weight="normal" fill="#1a1a1a" dominant-baseline="central" >200</text>
<line x1="73.95" y1="780.80" x2="236.00" y2="780.80" stroke="#111" stroke-width="1.5"/>
<line x1="94.60" y1="780.80" x2="94.60" y2="784.80" stroke="#111" stroke-width="1.2"/>
<line x1="135.20" y1="780.80" x2="135.20" y2="784.80" stroke="#111" stroke-width="1.2"/>
<line x1="176.10" y1="780.80" x2="176.10" y2="784.80" stroke="#111" stroke-width="1.2"/>
<line x1="216.60" y1="780.80" x2="216.60" y2="784.80" stroke="#111" stroke-width="1.2"/>
<rect x="80.35" y="718.00" width="28.50" height="62.80" fill="#58246a"/>
<rect x="120.95" y="713.90" width="28.50" height="66.90" fill="#69ab3e"/>
<rect x="161.85" y="706.30" width="28.50" height="74.50" fill="#2c4b7e"/>
<rect x="202.35" y="702.60" width="28.50" height="78.20" fill="#ad0030"/>
<line x1="94.60" y1="715.00" x2="94.60" y2="722.00" stroke="#111" stroke-width="1.4"/>
<line x1="88.35" y1="715.00" x2="100.85" y2="715.00" stroke="#111" stroke-width="1.4"/>
<line x1="88.35" y1="722.00" x2="100.85" y2="722.00" stroke="#111" stroke-width="1.4"/>
<line x1="135.20" y1="711.70" x2="135.20" y2="717.90" stroke="#111" stroke-width="1.4"/>
<line x1="128.95" y1="711.70" x2="141.45" y2="711.70" stroke="#111" stroke-width="1.4"/>
<line x1="128.95" y1="717.90" x2="141.45" y2="717.90" stroke="#111" stroke-width="1.4"/>
<line x1="176.10" y1="702.80" x2="176.10" y2="711.20" stroke="#111" stroke-width="1.4"/>
<line x1="169.85" y1="702.80" x2="182.35" y2="702.80" stroke="#111" stroke-width="1.4"/>
<line x1="169.85" y1="711.20" x2="182.35" y2="711.20" stroke="#111" stroke-width="1.4"/>
<line x1="216.60" y1="699.60" x2="216.60" y2="707.20" stroke="#111" stroke-width="1.4"/>
<line x1="210.35" y1="699.60" x2="222.85" y2="699.60" stroke="#111" stroke-width="1.4"/>
<line x1="210.35" y1="707.20" x2="222.85" y2="707.20" stroke="#111" stroke-width="1.4"/>
<text transform="translate(96.10,791.80) rotate(-45)" font-size="9" text-anchor="end" fill="#1a1a1a" dominant-baseline="central">1 mg/kg</text>
<text transform="translate(136.70,791.80) rotate(-45)" font-size="9" text-anchor="end" fill="#1a1a1a" dominant-baseline="central">10 mg/kg</text>
<text transform="translate(177.60,791.80) rotate(-45)" font-size="9" text-anchor="end" fill="#1a1a1a" dominant-baseline="central">50 mg/kg</text>
<text transform="translate(218.10,791.80) rotate(-45)" font-size="9" text-anchor="end" fill="#1a1a1a" dominant-baseline="central">150 mg/kg</text>
<text transform="translate(31.80,725.20) rotate(-90)" font-size="10.2" text-anchor="middle" fill="#1a1a1a">ATP AUC<tspan font-size="7.8" dy="2.3">0-12hrs</tspan></text>
<text transform="translate(45.60,725.00) rotate(-90)" font-size="10.2" text-anchor="middle" fill="#1a1a1a">(% of vehicle)</text>
<line x1="328.30" y1="517.82" x2="328.30" y2="627.95" stroke="#111" stroke-width="1.5"/>
<line x1="324.80" y1="627.20" x2="328.30" y2="627.20" stroke="#111" stroke-width="1.2"/>
<line x1="324.80" y1="609.47" x2="328.30" y2="609.47" stroke="#111" stroke-width="1.2"/>
<line x1="324.80" y1="591.74" x2="328.30" y2="591.74" stroke="#111" stroke-width="1.2"/>
<line x1="324.80" y1="574.01" x2="328.30" y2="574.01" stroke="#111" stroke-width="1.2"/>
<line x1="324.80" y1="556.28" x2="328.30" y2="556.28" stroke="#111" stroke-width="1.2"/>
<line x1="324.80" y1="538.55" x2="328.30" y2="538.55" stroke="#111" stroke-width="1.2"/>
<line x1="324.80" y1="520.82" x2="328.30" y2="520.82" stroke="#111" stroke-width="1.2"/>
<text x="317.00" y="627.60" font-size="9.2" text-anchor="end" font-weight="normal" fill="#1a1a1a" dominant-baseline="central" >1.2×10</text>
<text x="317.70" y="624.60" font-size="6.0" text-anchor="start" font-weight="normal" fill="#1a1a1a" dominant-baseline="central" >6</text>
<text x="317.00" y="609.87" font-size="9.2" text-anchor="end" font-weight="normal" fill="#1a1a1a" dominant-baseline="central" >1.4×10</text>
<text x="317.70" y="606.87" font-size="6.0" text-anchor="start" font-weight="normal" fill="#1a1a1a" dominant-baseline="central" >6</text>
<text x="317.00" y="592.14" font-size="9.2" text-anchor="end" font-weight="normal" fill="#1a1a1a" dominant-baseline="central" >1.6×10</text>
<text x="317.70" y="589.14" font-size="6.0" text-anchor="start" font-weight="normal" fill="#1a1a1a" dominant-baseline="central" >6</text>
<text x="317.00" y="574.41" font-size="9.2" text-anchor="end" font-weight="normal" fill="#1a1a1a" dominant-baseline="central" >1.8×10</text>
<text x="317.70" y="571.41" font-size="6.0" text-anchor="start" font-weight="normal" fill="#1a1a1a" dominant-baseline="central" >6</text>
<text x="317.00" y="556.68" font-size="9.2" text-anchor="end" font-weight="normal" fill="#1a1a1a" dominant-baseline="central" >2.0×10</text>
<text x="317.70" y="553.68" font-size="6.0" text-anchor="start" font-weight="normal" fill="#1a1a1a" dominant-baseline="central" >6</text>
<text x="317.00" y="538.95" font-size="9.2" text-anchor="end" font-weight="normal" fill="#1a1a1a" dominant-baseline="central" >2.2×10</text>
<text x="317.70" y="535.95" font-size="6.0" text-anchor="start" font-weight="normal" fill="#1a1a1a" dominant-baseline="central" >6</text>
<text x="317.00" y="521.22" font-size="9.2" text-anchor="end" font-weight="normal" fill="#1a1a1a" dominant-baseline="central" >2.4×10</text>
<text x="317.70" y="518.22" font-size="6.0" text-anchor="start" font-weight="normal" fill="#1a1a1a" dominant-baseline="central" >6</text>
<line x1="327.55" y1="627.20" x2="491.50" y2="627.20" stroke="#111" stroke-width="1.5"/>
<line x1="338.80" y1="627.20" x2="338.80" y2="631.20" stroke="#111" stroke-width="1.2"/>
<line x1="358.95" y1="627.20" x2="358.95" y2="631.20" stroke="#111" stroke-width="1.2"/>
<line x1="379.10" y1="627.20" x2="379.10" y2="631.20" stroke="#111" stroke-width="1.2"/>
<line x1="399.25" y1="627.20" x2="399.25" y2="631.20" stroke="#111" stroke-width="1.2"/>
<line x1="419.40" y1="627.20" x2="419.40" y2="631.20" stroke="#111" stroke-width="1.2"/>
<line x1="439.55" y1="627.20" x2="439.55" y2="631.20" stroke="#111" stroke-width="1.2"/>
<line x1="459.70" y1="627.20" x2="459.70" y2="631.20" stroke="#111" stroke-width="1.2"/>
<line x1="479.85" y1="627.20" x2="479.85" y2="631.20" stroke="#111" stroke-width="1.2"/>
<text transform="translate(341.80,637.80) rotate(-45)" font-size="9" text-anchor="end" fill="#1a1a1a" dominant-baseline="central">0</text>
<text transform="translate(361.95,637.80) rotate(-45)" font-size="9" text-anchor="end" fill="#1a1a1a" dominant-baseline="central">3</text>
<text transform="translate(382.10,637.80) rotate(-45)" font-size="9" text-anchor="end" fill="#1a1a1a" dominant-baseline="central">6</text>
<text transform="translate(402.25,637.80) rotate(-45)" font-size="9" text-anchor="end" fill="#1a1a1a" dominant-baseline="central">12</text>
<text transform="translate(422.40,637.80) rotate(-45)" font-size="9" text-anchor="end" fill="#1a1a1a" dominant-baseline="central">24</text>
<text transform="translate(442.55,637.80) rotate(-45)" font-size="9" text-anchor="end" fill="#1a1a1a" dominant-baseline="central">36</text>
<text transform="translate(462.70,637.80) rotate(-45)" font-size="9" text-anchor="end" fill="#1a1a1a" dominant-baseline="central">48</text>
<text transform="translate(482.85,637.80) rotate(-45)" font-size="9" text-anchor="end" fill="#1a1a1a" dominant-baseline="central">72</text>
<text x="410.00" y="662.00" font-size="11.2" text-anchor="middle" font-weight="normal" fill="#1a1a1a" textLength="102" lengthAdjust="spacingAndGlyphs">Time post last dose (h)</text>
<text x="409.40" y="510.50" font-size="11.2" text-anchor="middle" font-weight="normal" fill="#1a1a1a" >2,3-DPG</text>
<text transform="translate(283.00,574.00) rotate(-90)" font-size="10.2" text-anchor="middle" fill="#1a1a1a">2,3-DPG (ng/mL)</text>
<polyline points="338.80,568.50 358.95,575.80 379.10,551.70 399.25,563.30 419.40,574.80 439.55,561.30 459.70,583.00 479.85,574.20" fill="none" stroke="#213b60" stroke-width="2.1" stroke-linejoin="round"/>
<line x1="338.80" y1="561.30" x2="338.80" y2="575.80" stroke="#26436c" stroke-width="1.3"/>
<line x1="336.30" y1="561.30" x2="341.30" y2="561.30" stroke="#26436c" stroke-width="1.3"/>
<line x1="336.30" y1="575.80" x2="341.30" y2="575.80" stroke="#26436c" stroke-width="1.3"/>
<line x1="358.95" y1="568.50" x2="358.95" y2="583.00" stroke="#26436c" stroke-width="1.3"/>
<line x1="356.45" y1="568.50" x2="361.45" y2="568.50" stroke="#26436c" stroke-width="1.3"/>
<line x1="356.45" y1="583.00" x2="361.45" y2="583.00" stroke="#26436c" stroke-width="1.3"/>
<line x1="379.10" y1="547.00" x2="379.10" y2="555.60" stroke="#26436c" stroke-width="1.3"/>
<line x1="376.60" y1="547.00" x2="381.60" y2="547.00" stroke="#26436c" stroke-width="1.3"/>
<line x1="376.60" y1="555.60" x2="381.60" y2="555.60" stroke="#26436c" stroke-width="1.3"/>
<line x1="399.25" y1="558.00" x2="399.25" y2="568.00" stroke="#26436c" stroke-width="1.3"/>
<line x1="396.75" y1="558.00" x2="401.75" y2="558.00" stroke="#26436c" stroke-width="1.3"/>
<line x1="396.75" y1="568.00" x2="401.75" y2="568.00" stroke="#26436c" stroke-width="1.3"/>
<line x1="419.40" y1="571.00" x2="419.40" y2="578.00" stroke="#26436c" stroke-width="1.3"/>
<line x1="416.90" y1="571.00" x2="421.90" y2="571.00" stroke="#26436c" stroke-width="1.3"/>
<line x1="416.90" y1="578.00" x2="421.90" y2="578.00" stroke="#26436c" stroke-width="1.3"/>
<line x1="439.55" y1="552.70" x2="439.55" y2="571.50" stroke="#26436c" stroke-width="1.3"/>
<line x1="437.05" y1="552.70" x2="442.05" y2="552.70" stroke="#26436c" stroke-width="1.3"/>
<line x1="437.05" y1="571.50" x2="442.05" y2="571.50" stroke="#26436c" stroke-width="1.3"/>
<line x1="459.70" y1="574.80" x2="459.70" y2="592.10" stroke="#26436c" stroke-width="1.3"/>
<line x1="457.20" y1="574.80" x2="462.20" y2="574.80" stroke="#26436c" stroke-width="1.3"/>
<line x1="457.20" y1="592.10" x2="462.20" y2="592.10" stroke="#26436c" stroke-width="1.3"/>
<line x1="479.85" y1="568.50" x2="479.85" y2="579.20" stroke="#26436c" stroke-width="1.3"/>
<line x1="477.35" y1="568.50" x2="482.35" y2="568.50" stroke="#26436c" stroke-width="1.3"/>
<line x1="477.35" y1="579.20" x2="482.35" y2="579.20" stroke="#26436c" stroke-width="1.3"/>
<path d="M338.80 565.39L341.91 568.50L338.80 571.61L335.69 568.50Z" fill="#27487a"/>
<path d="M358.95 572.69L362.06 575.80L358.95 578.90L355.84 575.80Z" fill="#27487a"/>
<path d="M379.10 548.60L382.21 551.70L379.10 554.81L376.00 551.70Z" fill="#27487a"/>
<path d="M399.25 560.19L402.36 563.30L399.25 566.40L396.14 563.30Z" fill="#27487a"/>
<path d="M419.40 571.69L422.50 574.80L419.40 577.90L416.29 574.80Z" fill="#27487a"/>
<path d="M439.55 558.19L442.66 561.30L439.55 564.40L436.44 561.30Z" fill="#27487a"/>
<path d="M459.70 579.89L462.81 583.00L459.70 586.11L456.59 583.00Z" fill="#27487a"/>
<path d="M479.85 571.10L482.96 574.20L479.85 577.31L476.75 574.20Z" fill="#27487a"/>
<polyline points="338.80,593.50 358.95,594.00 379.10,594.60 399.25,597.50 419.40,575.80 439.55,551.70 459.70,564.60 479.85,559.40" fill="none" stroke="#8c1236" stroke-width="2.1" stroke-linejoin="round"/>
<line x1="338.80" y1="580.60" x2="338.80" y2="605.60" stroke="#98183e" stroke-width="1.3"/>
<line x1="336.30" y1="580.60" x2="341.30" y2="580.60" stroke="#98183e" stroke-width="1.3"/>
<line x1="336.30" y1="605.60" x2="341.30" y2="605.60" stroke="#98183e" stroke-width="1.3"/>
<line x1="358.95" y1="582.50" x2="358.95" y2="605.60" stroke="#98183e" stroke-width="1.3"/>
<line x1="356.45" y1="582.50" x2="361.45" y2="582.50" stroke="#98183e" stroke-width="1.3"/>
<line x1="356.45" y1="605.60" x2="361.45" y2="605.60" stroke="#98183e" stroke-width="1.3"/>
<line x1="379.10" y1="592.00" x2="379.10" y2="597.00" stroke="#98183e" stroke-width="1.3"/>
<line x1="376.60" y1="592.00" x2="381.60" y2="592.00" stroke="#98183e" stroke-width="1.3"/>
<line x1="376.60" y1="597.00" x2="381.60" y2="597.00" stroke="#98183e" stroke-width="1.3"/>
<line x1="399.25" y1="587.70" x2="399.25" y2="606.50" stroke="#98183e" stroke-width="1.3"/>
<line x1="396.75" y1="587.70" x2="401.75" y2="587.70" stroke="#98183e" stroke-width="1.3"/>
<line x1="396.75" y1="606.50" x2="401.75" y2="606.50" stroke="#98183e" stroke-width="1.3"/>
<line x1="419.40" y1="570.40" x2="419.40" y2="582.00" stroke="#98183e" stroke-width="1.3"/>
<line x1="416.90" y1="570.40" x2="421.90" y2="570.40" stroke="#98183e" stroke-width="1.3"/>
<line x1="416.90" y1="582.00" x2="421.90" y2="582.00" stroke="#98183e" stroke-width="1.3"/>
<line x1="439.55" y1="546.50" x2="439.55" y2="557.50" stroke="#98183e" stroke-width="1.3"/>
<line x1="437.05" y1="546.50" x2="442.05" y2="546.50" stroke="#98183e" stroke-width="1.3"/>
<line x1="437.05" y1="557.50" x2="442.05" y2="557.50" stroke="#98183e" stroke-width="1.3"/>
<line x1="459.70" y1="556.20" x2="459.70" y2="572.90" stroke="#98183e" stroke-width="1.3"/>
<line x1="457.20" y1="556.20" x2="462.20" y2="556.20" stroke="#98183e" stroke-width="1.3"/>
<line x1="457.20" y1="572.90" x2="462.20" y2="572.90" stroke="#98183e" stroke-width="1.3"/>
<line x1="479.85" y1="550.40" x2="479.85" y2="568.00" stroke="#98183e" stroke-width="1.3"/>
<line x1="477.35" y1="550.40" x2="482.35" y2="550.40" stroke="#98183e" stroke-width="1.3"/>
<line x1="477.35" y1="568.00" x2="482.35" y2="568.00" stroke="#98183e" stroke-width="1.3"/>
<rect x="336.95" y="591.65" width="3.70" height="3.70" fill="#fff" stroke="#a50d35" stroke-width="1.7"/>
<rect x="357.10" y="592.15" width="3.70" height="3.70" fill="#fff" stroke="#a50d35" stroke-width="1.7"/>
<rect x="377.25" y="592.75" width="3.70" height="3.70" fill="#fff" stroke="#a50d35" stroke-width="1.7"/>
<rect x="397.40" y="595.65" width="3.70" height="3.70" fill="#fff" stroke="#a50d35" stroke-width="1.7"/>
<rect x="417.55" y="573.95" width="3.70" height="3.70" fill="#fff" stroke="#a50d35" stroke-width="1.7"/>
<rect x="437.70" y="549.85" width="3.70" height="3.70" fill="#fff" stroke="#a50d35" stroke-width="1.7"/>
<rect x="457.85" y="562.75" width="3.70" height="3.70" fill="#fff" stroke="#a50d35" stroke-width="1.7"/>
<rect x="478.00" y="557.55" width="3.70" height="3.70" fill="#fff" stroke="#a50d35" stroke-width="1.7"/>
<line x1="429.80" y1="604.00" x2="440.40" y2="604.00" stroke="#8c1236" stroke-width="2.2"/>
<rect x="433.15" y="602.05" width="3.90" height="3.90" fill="#fff" stroke="#a50d35" stroke-width="1.7"/>
<text x="445.60" y="604.00" font-size="8.7" text-anchor="start" font-weight="normal" fill="#1a1a1a" dominant-baseline="central" >150 mg/kg</text>
<line x1="429.80" y1="615.60" x2="440.40" y2="615.60" stroke="#213b60" stroke-width="2.2"/>
<path d="M435.10 612.38L438.32 615.60L435.10 618.82L431.88 615.60Z" fill="#27487a"/>
<text x="445.60" y="615.60" font-size="8.7" text-anchor="start" font-weight="normal" fill="#1a1a1a" dominant-baseline="central" >Vehicle</text>
<line x1="328.90" y1="669.50" x2="328.90" y2="781.65" stroke="#111" stroke-width="1.5"/>
<line x1="325.40" y1="780.90" x2="328.90" y2="780.90" stroke="#111" stroke-width="1.2"/>
<text x="321.90" y="780.90" font-size="9" text-anchor="end" font-weight="normal" fill="#1a1a1a" dominant-baseline="central" >0</text>
<line x1="325.40" y1="744.76" x2="328.90" y2="744.76" stroke="#111" stroke-width="1.2"/>
<text x="321.90" y="744.76" font-size="9" text-anchor="end" font-weight="normal" fill="#1a1a1a" dominant-baseline="central" >50</text>
<line x1="325.40" y1="708.63" x2="328.90" y2="708.63" stroke="#111" stroke-width="1.2"/>
<text x="321.90" y="708.63" font-size="9" text-anchor="end" font-weight="normal" fill="#1a1a1a" dominant-baseline="central" >100</text>
<line x1="325.40" y1="672.50" x2="328.90" y2="672.50" stroke="#111" stroke-width="1.2"/>
<text x="321.90" y="672.50" font-size="9" text-anchor="end" font-weight="normal" fill="#1a1a1a" dominant-baseline="central" >150</text>
<line x1="328.15" y1="780.90" x2="492.00" y2="780.90" stroke="#111" stroke-width="1.5"/>
<line x1="349.30" y1="780.90" x2="349.30" y2="784.90" stroke="#111" stroke-width="1.2"/>
<line x1="390.00" y1="780.90" x2="390.00" y2="784.90" stroke="#111" stroke-width="1.2"/>
<line x1="430.40" y1="780.90" x2="430.40" y2="784.90" stroke="#111" stroke-width="1.2"/>
<line x1="471.30" y1="780.90" x2="471.30" y2="784.90" stroke="#111" stroke-width="1.2"/>
<rect x="334.95" y="709.30" width="28.70" height="71.60" fill="#58246a"/>
<rect x="375.65" y="718.00" width="28.70" height="62.90" fill="#69ab3e"/>
<rect x="416.05" y="719.90" width="28.70" height="61.00" fill="#2c4b7e"/>
<rect x="456.95" y="721.80" width="28.70" height="59.10" fill="#ad0030"/>
<line x1="349.30" y1="707.00" x2="349.30" y2="713.00" stroke="#111" stroke-width="1.4"/>
<line x1="343.05" y1="707.00" x2="355.55" y2="707.00" stroke="#111" stroke-width="1.4"/>
<line x1="343.05" y1="713.00" x2="355.55" y2="713.00" stroke="#111" stroke-width="1.4"/>
<line x1="390.00" y1="715.30" x2="390.00" y2="722.00" stroke="#111" stroke-width="1.4"/>
<line x1="383.75" y1="715.30" x2="396.25" y2="715.30" stroke="#111" stroke-width="1.4"/>
<line x1="383.75" y1="722.00" x2="396.25" y2="722.00" stroke="#111" stroke-width="1.4"/>
<line x1="430.40" y1="717.50" x2="430.40" y2="723.70" stroke="#111" stroke-width="1.4"/>
<line x1="424.15" y1="717.50" x2="436.65" y2="717.50" stroke="#111" stroke-width="1.4"/>
<line x1="424.15" y1="723.70" x2="436.65" y2="723.70" stroke="#111" stroke-width="1.4"/>
<line x1="471.30" y1="718.80" x2="471.30" y2="726.40" stroke="#111" stroke-width="1.4"/>
<line x1="465.05" y1="718.80" x2="477.55" y2="718.80" stroke="#111" stroke-width="1.4"/>
<line x1="465.05" y1="726.40" x2="477.55" y2="726.40" stroke="#111" stroke-width="1.4"/>
<text transform="translate(350.80,791.90) rotate(-45)" font-size="9" text-anchor="end" fill="#1a1a1a" dominant-baseline="central">1 mg/kg</text>
<text transform="translate(391.50,791.90) rotate(-45)" font-size="9" text-anchor="end" fill="#1a1a1a" dominant-baseline="central">10 mg/kg</text>
<text transform="translate(431.90,791.90) rotate(-45)" font-size="9" text-anchor="end" fill="#1a1a1a" dominant-baseline="central">50 mg/kg</text>
<text transform="translate(472.80,791.90) rotate(-45)" font-size="9" text-anchor="end" fill="#1a1a1a" dominant-baseline="central">150 mg/kg</text>
<text transform="translate(286.80,725.00) rotate(-90)" font-size="10.2" text-anchor="middle" fill="#1a1a1a">2,3-DPG AUC<tspan font-size="7.8" dy="2.3">0-12hrs</tspan></text>
<text transform="translate(299.90,724.30) rotate(-90)" font-size="10.2" text-anchor="middle" fill="#1a1a1a">(% of vehicle)</text>
<rect x="0" y="0" width="1.5" height="832" fill="#000"/>
<rect x="0" y="0" width="520" height="1.5" fill="#000"/>
<rect x="517.8" y="0" width="2.2" height="832" fill="#000"/>
<rect x="0" y="829.7" width="520" height="2.3" fill="#000"/>
</svg>
</body></html>
